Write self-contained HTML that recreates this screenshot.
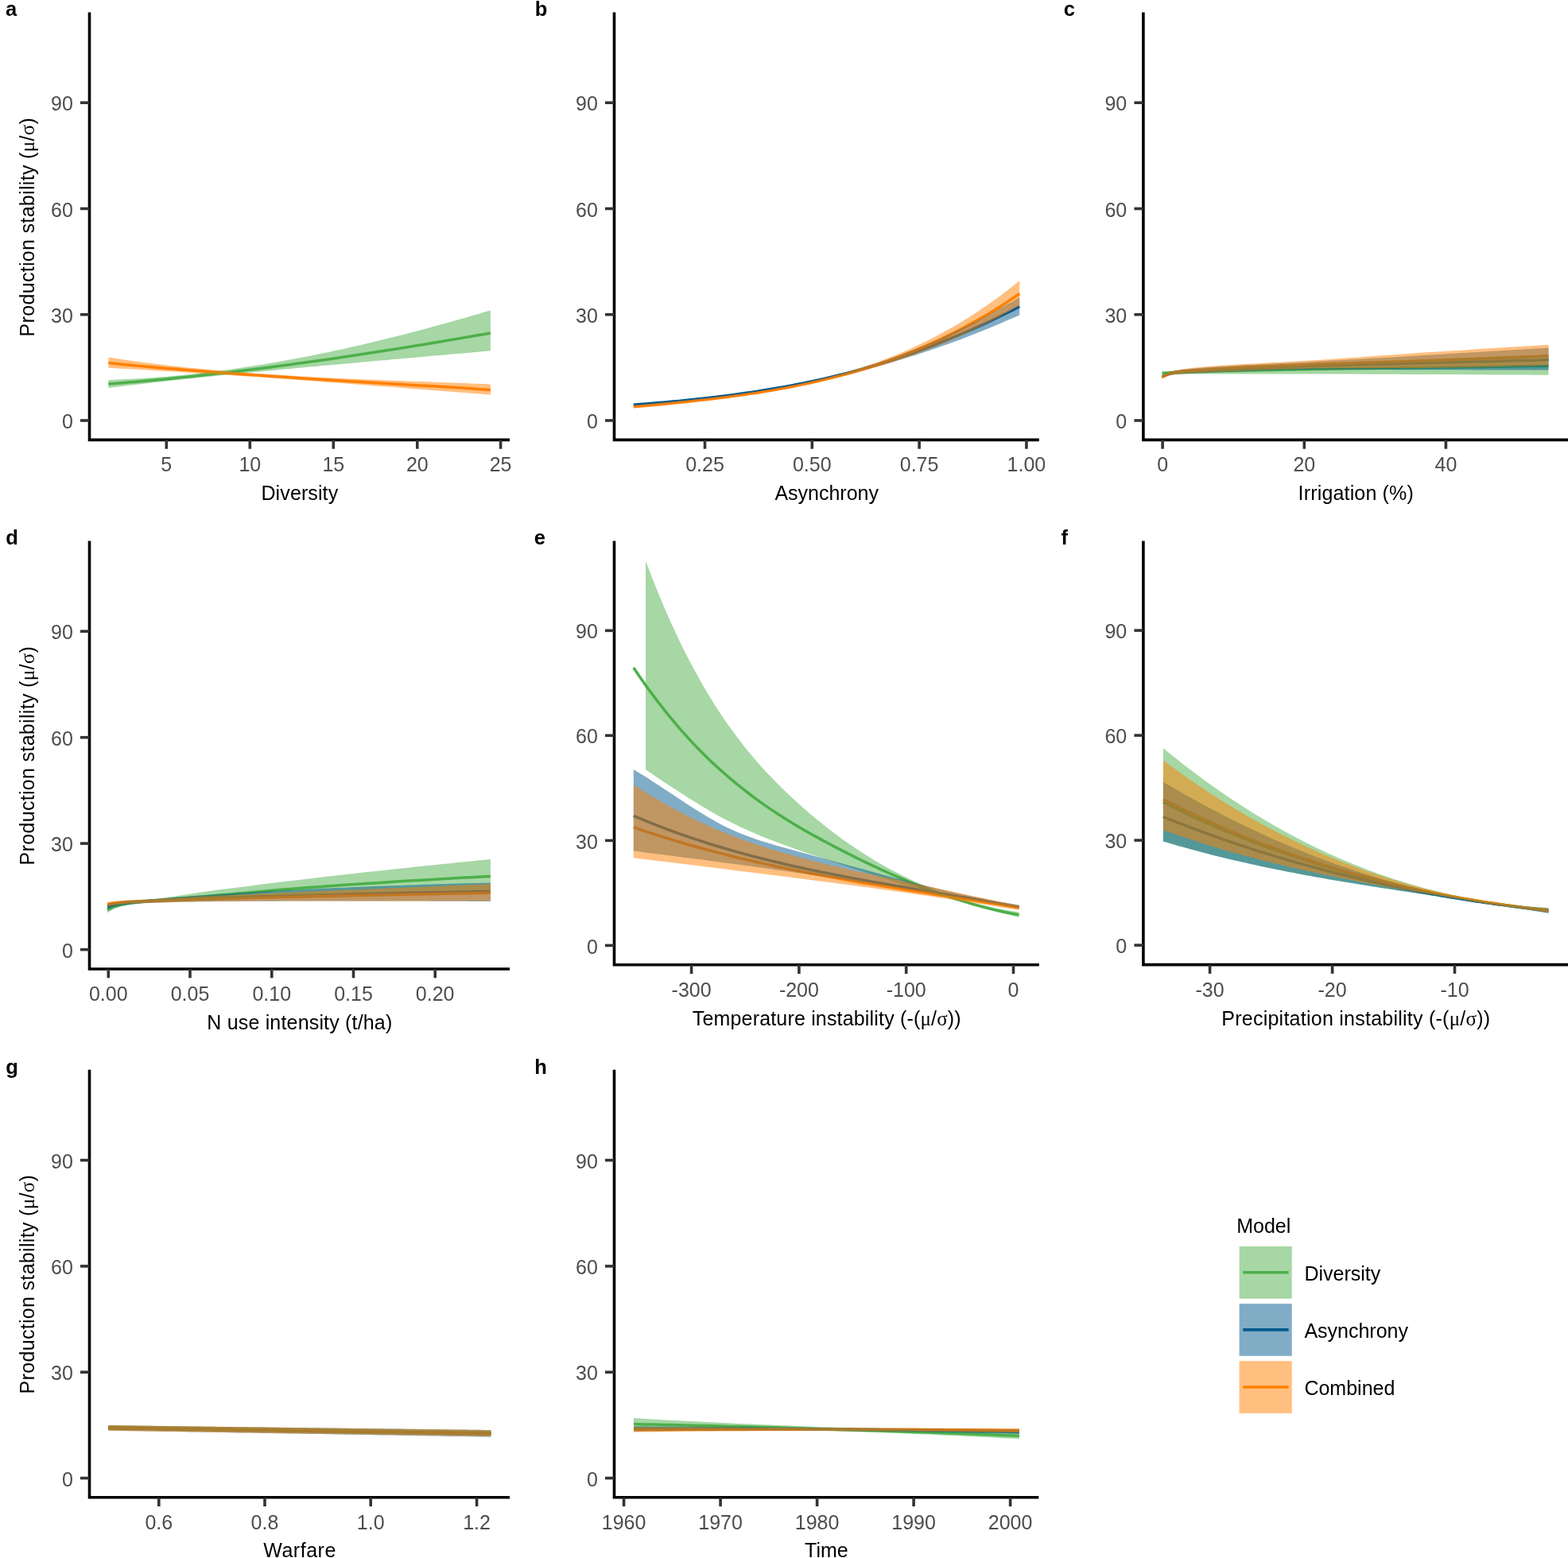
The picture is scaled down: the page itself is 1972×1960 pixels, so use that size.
<!DOCTYPE html><html><head><meta charset="utf-8"><title>Production stability</title>
<style>html,body{margin:0;padding:0;background:#fff;overflow:hidden;width:1972px;height:1960px;}svg{display:block;}.tl{font-family:"Liberation Sans",Arial,sans-serif;font-size:25.0px;fill:#4D4D4D;}.tt{font-family:"Liberation Sans",Arial,sans-serif;font-size:25.0px;fill:#000;}.sy{font-family:"Liberation Serif","Times New Roman",serif;}.lb{font-family:"Liberation Sans",Arial,sans-serif;font-size:25.5px;font-weight:bold;fill:#000;}</style></head><body>
<svg width="1972" height="1960" viewBox="0 0 1972 1960">
<rect width="1972" height="1960" fill="#fff"/>
<g>
<path d="M136.4 483 L144.5 482.4 L152.7 481.7 L160.8 481.1 L169 480.4 L177.1 479.7 L185.3 479 L193.4 478.2 L201.6 477.5 L209.7 476.7 L217.8 475.9 L226 475.1 L234.1 474.2 L242.3 473.4 L250.4 472.5 L258.6 471.6 L266.7 470.7 L274.8 469.8 L283 468.9 L291.1 467.9 L299.3 467 L307.4 466 L315.6 465 L323.7 464 L331.9 463 L340 461.9 L348.1 460.8 L356.3 459.8 L364.4 458.7 L372.6 457.6 L380.7 456.5 L388.9 455.3 L397 454.2 L405.2 453 L413.3 451.9 L421.4 450.7 L429.6 449.5 L437.7 448.3 L445.9 447.1 L454 445.8 L462.2 444.6 L470.3 443.3 L478.5 442.1 L486.6 440.8 L494.7 439.5 L502.9 438.2 L511 436.9 L519.2 435.6 L527.3 434.2 L535.5 432.9 L543.6 431.5 L551.7 430.2 L559.9 428.8 L568 427.4 L576.2 426 L584.3 424.6 L592.5 423.2 L600.6 421.8 L608.8 420.4 L616.9 419" fill="none" stroke="#4DAF4A" stroke-width="3.5" stroke-linejoin="round"/>
<path d="M136.4 456.6 L144.5 457.4 L152.7 458.2 L160.8 459 L169 459.7 L177.1 460.5 L185.3 461.2 L193.4 461.9 L201.6 462.7 L209.7 463.4 L217.8 464 L226 464.7 L234.1 465.4 L242.3 466 L250.4 466.7 L258.6 467.3 L266.7 468 L274.8 468.6 L283 469.2 L291.1 469.8 L299.3 470.4 L307.4 470.9 L315.6 471.5 L323.7 472.1 L331.9 472.6 L340 473.2 L348.1 473.8 L356.3 474.3 L364.4 474.8 L372.6 475.4 L380.7 475.9 L388.9 476.4 L397 476.9 L405.2 477.4 L413.3 477.9 L421.4 478.4 L429.6 478.9 L437.7 479.4 L445.9 479.9 L454 480.4 L462.2 480.9 L470.3 481.4 L478.5 481.9 L486.6 482.4 L494.7 482.9 L502.9 483.4 L511 483.9 L519.2 484.4 L527.3 484.9 L535.5 485.3 L543.6 485.8 L551.7 486.3 L559.9 486.8 L568 487.3 L576.2 487.8 L584.3 488.3 L592.5 488.8 L600.6 489.4 L608.8 489.9 L616.9 490.4" fill="none" stroke="#FF7F00" stroke-width="3.5" stroke-linejoin="round"/>
<path d="M136.4 477.9 L144.5 477.7 L152.7 477.3 L160.8 477 L169 476.5 L177.1 476 L185.3 475.5 L193.4 474.9 L201.6 474.3 L209.7 473.7 L217.8 472.9 L226 472.2 L234.1 471.4 L242.3 470.5 L250.4 469.6 L258.6 468.7 L266.7 467.7 L274.8 466.6 L283 465.5 L291.1 464.4 L299.3 463.3 L307.4 462.1 L315.6 460.8 L323.7 459.5 L331.9 458.2 L340 456.8 L348.1 455.4 L356.3 454 L364.4 452.5 L372.6 451 L380.7 449.4 L388.9 447.9 L397 446.2 L405.2 444.6 L413.3 442.9 L421.4 441.1 L429.6 439.4 L437.7 437.6 L445.9 435.7 L454 433.9 L462.2 432 L470.3 430 L478.5 428.1 L486.6 426.1 L494.7 424.1 L502.9 422 L511 419.9 L519.2 417.8 L527.3 415.7 L535.5 413.5 L543.6 411.3 L551.7 409.1 L559.9 406.8 L568 404.6 L576.2 402.3 L584.3 399.9 L592.5 397.6 L600.6 395.2 L608.8 392.8 L616.9 390.4 L616.9 441.2 L608.8 442 L600.6 442.7 L592.5 443.4 L584.3 444.2 L576.2 444.9 L568 445.6 L559.9 446.4 L551.7 447.1 L543.6 447.8 L535.5 448.5 L527.3 449.3 L519.2 450 L511 450.7 L502.9 451.4 L494.7 452.1 L486.6 452.9 L478.5 453.6 L470.3 454.3 L462.2 455 L454 455.7 L445.9 456.5 L437.7 457.2 L429.6 457.9 L421.4 458.7 L413.3 459.4 L405.2 460.1 L397 460.9 L388.9 461.6 L380.7 462.4 L372.6 463.1 L364.4 463.9 L356.3 464.6 L348.1 465.4 L340 466.2 L331.9 466.9 L323.7 467.7 L315.6 468.5 L307.4 469.3 L299.3 470.1 L291.1 470.9 L283 471.7 L274.8 472.6 L266.7 473.4 L258.6 474.2 L250.4 475.1 L242.3 475.9 L234.1 476.8 L226 477.7 L217.8 478.6 L209.7 479.5 L201.6 480.4 L193.4 481.3 L185.3 482.2 L177.1 483.2 L169 484.1 L160.8 485.1 L152.7 486.1 L144.5 487 L136.4 488Z" fill="#4DAF4A" fill-opacity="0.5"/>
<path d="M136.4 449.5 L144.5 450.8 L152.7 452 L160.8 453.2 L169 454.3 L177.1 455.4 L185.3 456.5 L193.4 457.5 L201.6 458.5 L209.7 459.5 L217.8 460.4 L226 461.3 L234.1 462.2 L242.3 463 L250.4 463.8 L258.6 464.6 L266.7 465.4 L274.8 466.1 L283 466.8 L291.1 467.5 L299.3 468.2 L307.4 468.8 L315.6 469.4 L323.7 470 L331.9 470.6 L340 471.1 L348.1 471.6 L356.3 472.1 L364.4 472.6 L372.6 473.1 L380.7 473.6 L388.9 474 L397 474.4 L405.2 474.9 L413.3 475.3 L421.4 475.7 L429.6 476 L437.7 476.4 L445.9 476.8 L454 477.1 L462.2 477.4 L470.3 477.8 L478.5 478.1 L486.6 478.4 L494.7 478.7 L502.9 479.1 L511 479.4 L519.2 479.7 L527.3 480 L535.5 480.3 L543.6 480.6 L551.7 480.9 L559.9 481.2 L568 481.5 L576.2 481.8 L584.3 482.1 L592.5 482.4 L600.6 482.7 L608.8 483.1 L616.9 483.4 L616.9 496.6 L608.8 496 L600.6 495.3 L592.5 494.7 L584.3 494.1 L576.2 493.5 L568 492.8 L559.9 492.2 L551.7 491.6 L543.6 490.9 L535.5 490.3 L527.3 489.7 L519.2 489 L511 488.4 L502.9 487.8 L494.7 487.1 L486.6 486.5 L478.5 485.9 L470.3 485.2 L462.2 484.6 L454 484 L445.9 483.4 L437.7 482.7 L429.6 482.1 L421.4 481.5 L413.3 480.9 L405.2 480.3 L397 479.7 L388.9 479.1 L380.7 478.4 L372.6 477.8 L364.4 477.3 L356.3 476.7 L348.1 476.1 L340 475.5 L331.9 474.9 L323.7 474.3 L315.6 473.8 L307.4 473.2 L299.3 472.6 L291.1 472.1 L283 471.5 L274.8 471 L266.7 470.5 L258.6 469.9 L250.4 469.4 L242.3 468.9 L234.1 468.4 L226 467.9 L217.8 467.4 L209.7 466.9 L201.6 466.4 L193.4 465.9 L185.3 465.5 L177.1 465 L169 464.5 L160.8 464.1 L152.7 463.7 L144.5 463.2 L136.4 462.8Z" fill="#FF7F00" fill-opacity="0.5"/>
</g>
<path d="M112.5 17.4 V553.4 H639.2" fill="none" stroke="#000" stroke-width="3.6" stroke-linecap="square" stroke-linejoin="miter"/>
<line x1="101" y1="529" x2="112.5" y2="529" stroke="#333" stroke-width="3.6"/>
<text class="tl" x="91.8" y="539.1" text-anchor="end">0</text>
<line x1="101" y1="395.7" x2="112.5" y2="395.7" stroke="#333" stroke-width="3.6"/>
<text class="tl" x="91.8" y="405.8" text-anchor="end">30</text>
<line x1="101" y1="262.5" x2="112.5" y2="262.5" stroke="#333" stroke-width="3.6"/>
<text class="tl" x="91.8" y="272.6" text-anchor="end">60</text>
<line x1="101" y1="129.2" x2="112.5" y2="129.2" stroke="#333" stroke-width="3.6"/>
<text class="tl" x="91.8" y="139.3" text-anchor="end">90</text>
<line x1="209.3" y1="553.4" x2="209.3" y2="564.7" stroke="#333" stroke-width="3.6"/>
<text class="tl" x="209.3" y="593.4" text-anchor="middle">5</text>
<line x1="314.3" y1="553.4" x2="314.3" y2="564.7" stroke="#333" stroke-width="3.6"/>
<text class="tl" x="314.3" y="593.4" text-anchor="middle">10</text>
<line x1="419.3" y1="553.4" x2="419.3" y2="564.7" stroke="#333" stroke-width="3.6"/>
<text class="tl" x="419.3" y="593.4" text-anchor="middle">15</text>
<line x1="524.8" y1="553.4" x2="524.8" y2="564.7" stroke="#333" stroke-width="3.6"/>
<text class="tl" x="524.8" y="593.4" text-anchor="middle">20</text>
<line x1="629.6" y1="553.4" x2="629.6" y2="564.7" stroke="#333" stroke-width="3.6"/>
<text class="tl" x="629.6" y="593.4" text-anchor="middle">25</text>
<text class="tt" x="376.8" y="629.3" text-anchor="middle" textLength="96.7" lengthAdjust="spacing">Diversity</text>
<text class="tt" transform="translate(42.5 285.8) rotate(-90)" text-anchor="middle" textLength="275.2" lengthAdjust="spacing">Production stability (<tspan class="sy">μ</tspan>/<tspan class="sy">σ</tspan>)</text>
<text class="lb" x="6.9" y="20">a</text>
<g>
<path d="M796.8 509.3 L805 508.6 L813.3 508 L821.5 507.3 L829.7 506.6 L837.9 505.9 L846.2 505.1 L854.4 504.4 L862.6 503.6 L870.8 502.7 L879.1 501.8 L887.3 500.9 L895.5 500 L903.8 499 L912 498 L920.2 496.9 L928.4 495.8 L936.7 494.6 L944.9 493.4 L953.1 492.2 L961.3 490.8 L969.6 489.5 L977.8 488.1 L986 486.6 L994.3 485.1 L1002.5 483.5 L1010.7 481.9 L1018.9 480.2 L1027.2 478.4 L1035.4 476.6 L1043.6 474.7 L1051.8 472.7 L1060.1 470.7 L1068.3 468.6 L1076.5 466.4 L1084.7 464.1 L1093 461.8 L1101.2 459.4 L1109.4 456.9 L1117.7 454.3 L1125.9 451.6 L1134.1 448.9 L1142.3 446.1 L1150.6 443.2 L1158.8 440.2 L1167 437.1 L1175.2 434 L1183.5 430.7 L1191.7 427.4 L1199.9 424 L1208.2 420.5 L1216.4 417 L1224.6 413.3 L1232.8 409.6 L1241.1 405.8 L1249.3 402 L1257.5 398 L1265.7 394 L1274 389.9 L1282.2 385.7" fill="none" stroke="#045A8D" stroke-width="3.5" stroke-linejoin="round"/>
<path d="M796.8 511.8 L805 511 L813.3 510.3 L821.5 509.5 L829.7 508.7 L837.9 507.9 L846.2 507.1 L854.4 506.2 L862.6 505.4 L870.8 504.5 L879.1 503.6 L887.3 502.7 L895.5 501.7 L903.8 500.7 L912 499.7 L920.2 498.6 L928.4 497.5 L936.7 496.3 L944.9 495.1 L953.1 493.9 L961.3 492.6 L969.6 491.2 L977.8 489.8 L986 488.3 L994.3 486.7 L1002.5 485.1 L1010.7 483.4 L1018.9 481.7 L1027.2 479.8 L1035.4 477.9 L1043.6 475.9 L1051.8 473.8 L1060.1 471.6 L1068.3 469.4 L1076.5 467 L1084.7 464.5 L1093 462 L1101.2 459.3 L1109.4 456.6 L1117.7 453.7 L1125.9 450.7 L1134.1 447.6 L1142.3 444.4 L1150.6 441.1 L1158.8 437.7 L1167 434.1 L1175.2 430.4 L1183.5 426.6 L1191.7 422.6 L1199.9 418.5 L1208.2 414.3 L1216.4 409.9 L1224.6 405.4 L1232.8 400.7 L1241.1 395.9 L1249.3 391 L1257.5 385.9 L1265.7 380.6 L1274 375.1 L1282.2 369.5" fill="none" stroke="#FF7F00" stroke-width="3.5" stroke-linejoin="round"/>
<path d="M796.8 507.9 L805 507.2 L813.3 506.6 L821.5 505.9 L829.7 505.2 L837.9 504.4 L846.2 503.7 L854.4 502.9 L862.6 502.2 L870.8 501.3 L879.1 500.5 L887.3 499.6 L895.5 498.7 L903.8 497.8 L912 496.8 L920.2 495.8 L928.4 494.7 L936.7 493.6 L944.9 492.4 L953.1 491.2 L961.3 489.9 L969.6 488.5 L977.8 487.1 L986 485.7 L994.3 484.1 L1002.5 482.6 L1010.7 480.9 L1018.9 479.1 L1027.2 477.3 L1035.4 475.4 L1043.6 473.5 L1051.8 471.4 L1060.1 469.3 L1068.3 467 L1076.5 464.7 L1084.7 462.3 L1093 459.8 L1101.2 457.2 L1109.4 454.5 L1117.7 451.7 L1125.9 448.7 L1134.1 445.7 L1142.3 442.6 L1150.6 439.3 L1158.8 436 L1167 432.5 L1175.2 429 L1183.5 425.3 L1191.7 421.6 L1199.9 417.7 L1208.2 413.8 L1216.4 409.7 L1224.6 405.6 L1232.8 401.4 L1241.1 397.1 L1249.3 392.6 L1257.5 388.1 L1265.7 383.6 L1274 378.9 L1282.2 374.1 L1282.2 396.4 L1274 400 L1265.7 403.6 L1257.5 407.2 L1249.3 410.6 L1241.1 414 L1232.8 417.3 L1224.6 420.6 L1216.4 423.8 L1208.2 426.9 L1199.9 429.9 L1191.7 432.9 L1183.5 435.8 L1175.2 438.7 L1167 441.5 L1158.8 444.2 L1150.6 446.9 L1142.3 449.5 L1134.1 452 L1125.9 454.5 L1117.7 456.9 L1109.4 459.2 L1101.2 461.5 L1093 463.7 L1084.7 465.9 L1076.5 468 L1068.3 470 L1060.1 472 L1051.8 474 L1043.6 475.8 L1035.4 477.7 L1027.2 479.4 L1018.9 481.2 L1010.7 482.8 L1002.5 484.4 L994.3 486 L986 487.5 L977.8 489 L969.6 490.4 L961.3 491.8 L953.1 493.1 L944.9 494.4 L936.7 495.6 L928.4 496.8 L920.2 498 L912 499.1 L903.8 500.1 L895.5 501.2 L887.3 502.2 L879.1 503.1 L870.8 504 L862.6 504.9 L854.4 505.7 L846.2 506.5 L837.9 507.3 L829.7 508 L821.5 508.7 L813.3 509.3 L805 510 L796.8 510.6Z" fill="#045A8D" fill-opacity="0.5"/>
<path d="M796.8 510.2 L805 509.4 L813.3 508.6 L821.5 507.8 L829.7 507 L837.9 506.2 L846.2 505.4 L854.4 504.6 L862.6 503.8 L870.8 502.9 L879.1 502 L887.3 501.2 L895.5 500.2 L903.8 499.3 L912 498.3 L920.2 497.2 L928.4 496.2 L936.7 495 L944.9 493.9 L953.1 492.6 L961.3 491.3 L969.6 490 L977.8 488.5 L986 487 L994.3 485.5 L1002.5 483.8 L1010.7 482.1 L1018.9 480.2 L1027.2 478.3 L1035.4 476.3 L1043.6 474.2 L1051.8 472 L1060.1 469.7 L1068.3 467.3 L1076.5 464.7 L1084.7 462.1 L1093 459.3 L1101.2 456.4 L1109.4 453.3 L1117.7 450.2 L1125.9 446.9 L1134.1 443.4 L1142.3 439.9 L1150.6 436.1 L1158.8 432.2 L1167 428.2 L1175.2 424 L1183.5 419.6 L1191.7 415.1 L1199.9 410.4 L1208.2 405.5 L1216.4 400.5 L1224.6 395.2 L1232.8 389.8 L1241.1 384.2 L1249.3 378.4 L1257.5 372.4 L1265.7 366.2 L1274 359.7 L1282.2 353.1 L1282.2 384.4 L1274 389.1 L1265.7 393.7 L1257.5 398.2 L1249.3 402.5 L1241.1 406.7 L1232.8 410.8 L1224.6 414.8 L1216.4 418.7 L1208.2 422.5 L1199.9 426.1 L1191.7 429.7 L1183.5 433.1 L1175.2 436.4 L1167 439.7 L1158.8 442.8 L1150.6 445.9 L1142.3 448.8 L1134.1 451.7 L1125.9 454.4 L1117.7 457.1 L1109.4 459.7 L1101.2 462.2 L1093 464.6 L1084.7 466.9 L1076.5 469.2 L1068.3 471.4 L1060.1 473.5 L1051.8 475.5 L1043.6 477.5 L1035.4 479.4 L1027.2 481.3 L1018.9 483 L1010.7 484.7 L1002.5 486.4 L994.3 488 L986 489.5 L977.8 491 L969.6 492.4 L961.3 493.8 L953.1 495.1 L944.9 496.4 L936.7 497.6 L928.4 498.8 L920.2 499.9 L912 501 L903.8 502.1 L895.5 503.1 L887.3 504.1 L879.1 505.1 L870.8 506 L862.6 506.9 L854.4 507.8 L846.2 508.6 L837.9 509.4 L829.7 510.2 L821.5 511 L813.3 511.8 L805 512.5 L796.8 513.3Z" fill="#FF7F00" fill-opacity="0.5"/>
</g>
<path d="M772.5 17.4 V553.4 H1305" fill="none" stroke="#000" stroke-width="3.6" stroke-linecap="square" stroke-linejoin="miter"/>
<line x1="761" y1="529" x2="772.5" y2="529" stroke="#333" stroke-width="3.6"/>
<text class="tl" x="751.8" y="539.1" text-anchor="end">0</text>
<line x1="761" y1="395.7" x2="772.5" y2="395.7" stroke="#333" stroke-width="3.6"/>
<text class="tl" x="751.8" y="405.8" text-anchor="end">30</text>
<line x1="761" y1="262.5" x2="772.5" y2="262.5" stroke="#333" stroke-width="3.6"/>
<text class="tl" x="751.8" y="272.6" text-anchor="end">60</text>
<line x1="761" y1="129.2" x2="772.5" y2="129.2" stroke="#333" stroke-width="3.6"/>
<text class="tl" x="751.8" y="139.3" text-anchor="end">90</text>
<line x1="886.5" y1="553.4" x2="886.5" y2="564.7" stroke="#333" stroke-width="3.6"/>
<text class="tl" x="886.5" y="593.4" text-anchor="middle">0.25</text>
<line x1="1021.3" y1="553.4" x2="1021.3" y2="564.7" stroke="#333" stroke-width="3.6"/>
<text class="tl" x="1021.3" y="593.4" text-anchor="middle">0.50</text>
<line x1="1156.1" y1="553.4" x2="1156.1" y2="564.7" stroke="#333" stroke-width="3.6"/>
<text class="tl" x="1156.1" y="593.4" text-anchor="middle">0.75</text>
<line x1="1290.9" y1="553.4" x2="1290.9" y2="564.7" stroke="#333" stroke-width="3.6"/>
<text class="tl" x="1290.9" y="593.4" text-anchor="middle">1.00</text>
<text class="tt" x="1039.7" y="629.3" text-anchor="middle">Asynchrony</text>
<text class="lb" x="672.8" y="20">b</text>
<g>
<path d="M1461.5 469.5 L1469.7 469 L1478 468.6 L1486.2 468.3 L1494.4 468 L1502.7 467.7 L1510.9 467.4 L1519.2 467.2 L1527.4 467 L1535.6 466.8 L1543.9 466.6 L1552.1 466.4 L1560.3 466.2 L1568.6 466.1 L1576.8 465.9 L1585.1 465.7 L1593.3 465.6 L1601.5 465.4 L1609.8 465.2 L1618 465.1 L1626.2 464.9 L1634.5 464.8 L1642.7 464.7 L1651 464.5 L1659.2 464.4 L1667.4 464.2 L1675.7 464.1 L1683.9 464 L1692.1 463.8 L1700.4 463.7 L1708.6 463.6 L1716.9 463.5 L1725.1 463.4 L1733.3 463.2 L1741.6 463.1 L1749.8 463 L1758 462.9 L1766.3 462.8 L1774.5 462.7 L1782.8 462.5 L1791 462.4 L1799.2 462.3 L1807.5 462.2 L1815.7 462.1 L1823.9 462 L1832.2 461.8 L1840.4 461.7 L1848.7 461.6 L1856.9 461.5 L1865.1 461.4 L1873.4 461.3 L1881.6 461.2 L1889.8 461.1 L1898.1 460.9 L1906.3 460.8 L1914.6 460.7 L1922.8 460.6 L1931 460.5 L1939.3 460.4 L1947.5 460.3" fill="none" stroke="#4DAF4A" stroke-width="3.5" stroke-linejoin="round"/>
<path d="M1461.5 474 L1469.7 470.4 L1478 468.8 L1486.2 467.8 L1494.4 467.1 L1502.7 466.5 L1510.9 466 L1519.2 465.5 L1527.4 465.1 L1535.6 464.7 L1543.9 464.3 L1552.1 463.9 L1560.3 463.5 L1568.6 463.2 L1576.8 462.8 L1585.1 462.5 L1593.3 462.2 L1601.5 461.9 L1609.8 461.6 L1618 461.3 L1626.2 461 L1634.5 460.8 L1642.7 460.5 L1651 460.3 L1659.2 460 L1667.4 459.8 L1675.7 459.6 L1683.9 459.3 L1692.1 459.1 L1700.4 458.9 L1708.6 458.7 L1716.9 458.5 L1725.1 458.3 L1733.3 458.1 L1741.6 457.9 L1749.8 457.7 L1758 457.5 L1766.3 457.3 L1774.5 457.1 L1782.8 456.9 L1791 456.7 L1799.2 456.5 L1807.5 456.3 L1815.7 456.1 L1823.9 455.9 L1832.2 455.7 L1840.4 455.5 L1848.7 455.3 L1856.9 455.1 L1865.1 454.9 L1873.4 454.7 L1881.6 454.4 L1889.8 454.2 L1898.1 454 L1906.3 453.8 L1914.6 453.6 L1922.8 453.4 L1931 453.2 L1939.3 453 L1947.5 452.8" fill="none" stroke="#045A8D" stroke-width="3.5" stroke-linejoin="round"/>
<path d="M1461.5 474.5 L1469.7 470.3 L1478 468.5 L1486.2 467.4 L1494.4 466.6 L1502.7 465.9 L1510.9 465.4 L1519.2 464.9 L1527.4 464.3 L1535.6 463.9 L1543.9 463.4 L1552.1 462.9 L1560.3 462.5 L1568.6 462.1 L1576.8 461.7 L1585.1 461.4 L1593.3 461 L1601.5 460.7 L1609.8 460.3 L1618 460 L1626.2 459.7 L1634.5 459.3 L1642.7 459 L1651 458.7 L1659.2 458.3 L1667.4 458 L1675.7 457.7 L1683.9 457.5 L1692.1 457.2 L1700.4 456.9 L1708.6 456.6 L1716.9 456.3 L1725.1 456.1 L1733.3 455.8 L1741.6 455.5 L1749.8 455.2 L1758 455 L1766.3 454.7 L1774.5 454.4 L1782.8 454.1 L1791 453.8 L1799.2 453.5 L1807.5 453.2 L1815.7 452.9 L1823.9 452.6 L1832.2 452.3 L1840.4 452 L1848.7 451.7 L1856.9 451.3 L1865.1 451 L1873.4 450.7 L1881.6 450.4 L1889.8 450 L1898.1 449.7 L1906.3 449.4 L1914.6 449 L1922.8 448.7 L1931 448.4 L1939.3 448 L1947.5 447.7" fill="none" stroke="#FF7F00" stroke-width="3.5" stroke-linejoin="round"/>
<path d="M1461.5 467.4 L1469.7 467 L1478 466.3 L1486.2 465.7 L1494.4 465.1 L1502.7 464.7 L1510.9 464.2 L1519.2 463.8 L1527.4 463.3 L1535.6 462.9 L1543.9 462.5 L1552.1 462 L1560.3 461.7 L1568.6 461.3 L1576.8 460.9 L1585.1 460.5 L1593.3 460.2 L1601.5 459.8 L1609.8 459.5 L1618 459.2 L1626.2 458.9 L1634.5 458.5 L1642.7 458.2 L1651 457.9 L1659.2 457.6 L1667.4 457.3 L1675.7 457 L1683.9 456.7 L1692.1 456.3 L1700.4 456 L1708.6 455.7 L1716.9 455.4 L1725.1 455.1 L1733.3 454.8 L1741.6 454.5 L1749.8 454.2 L1758 453.9 L1766.3 453.6 L1774.5 453.3 L1782.8 452.9 L1791 452.6 L1799.2 452.3 L1807.5 452 L1815.7 451.7 L1823.9 451.4 L1832.2 451.1 L1840.4 450.7 L1848.7 450.4 L1856.9 450.1 L1865.1 449.8 L1873.4 449.4 L1881.6 449.1 L1889.8 448.8 L1898.1 448.5 L1906.3 448.1 L1914.6 447.8 L1922.8 447.5 L1931 447.2 L1939.3 446.8 L1947.5 446.5 L1947.5 471.8 L1939.3 471.7 L1931 471.7 L1922.8 471.6 L1914.6 471.6 L1906.3 471.5 L1898.1 471.5 L1889.8 471.4 L1881.6 471.4 L1873.4 471.4 L1865.1 471.3 L1856.9 471.3 L1848.7 471.2 L1840.4 471.2 L1832.2 471.1 L1823.9 471.1 L1815.7 471.1 L1807.5 471 L1799.2 471 L1791 471 L1782.8 470.9 L1774.5 470.9 L1766.3 470.9 L1758 470.8 L1749.8 470.8 L1741.6 470.8 L1733.3 470.7 L1725.1 470.7 L1716.9 470.7 L1708.6 470.6 L1700.4 470.6 L1692.1 470.6 L1683.9 470.6 L1675.7 470.5 L1667.4 470.5 L1659.2 470.5 L1651 470.5 L1642.7 470.5 L1634.5 470.5 L1626.2 470.5 L1618 470.5 L1609.8 470.5 L1601.5 470.5 L1593.3 470.5 L1585.1 470.5 L1576.8 470.5 L1568.6 470.5 L1560.3 470.5 L1552.1 470.5 L1543.9 470.5 L1535.6 470.5 L1527.4 470.5 L1519.2 470.5 L1510.9 470.5 L1502.7 470.6 L1494.4 470.6 L1486.2 470.7 L1478 470.8 L1469.7 470.9 L1461.5 471.5Z" fill="#4DAF4A" fill-opacity="0.5"/>
<path d="M1461.5 472.5 L1469.7 468.2 L1478 466.3 L1486.2 465.1 L1494.4 464.2 L1502.7 463.4 L1510.9 462.7 L1519.2 462.1 L1527.4 461.5 L1535.6 460.9 L1543.9 460.4 L1552.1 460 L1560.3 459.5 L1568.6 459.1 L1576.8 458.7 L1585.1 458.3 L1593.3 457.9 L1601.5 457.5 L1609.8 457.1 L1618 456.7 L1626.2 456.3 L1634.5 455.9 L1642.7 455.5 L1651 455 L1659.2 454.5 L1667.4 454.1 L1675.7 453.6 L1683.9 453.2 L1692.1 452.7 L1700.4 452.2 L1708.6 451.8 L1716.9 451.3 L1725.1 450.8 L1733.3 450.4 L1741.6 449.9 L1749.8 449.4 L1758 448.9 L1766.3 448.5 L1774.5 448 L1782.8 447.5 L1791 447 L1799.2 446.5 L1807.5 446.1 L1815.7 445.6 L1823.9 445.1 L1832.2 444.6 L1840.4 444.1 L1848.7 443.6 L1856.9 443.1 L1865.1 442.6 L1873.4 442.1 L1881.6 441.6 L1889.8 441.1 L1898.1 440.6 L1906.3 440.1 L1914.6 439.6 L1922.8 439 L1931 438.5 L1939.3 438 L1947.5 437.5 L1947.5 465.5 L1939.3 465.5 L1931 465.5 L1922.8 465.5 L1914.6 465.5 L1906.3 465.5 L1898.1 465.4 L1889.8 465.4 L1881.6 465.4 L1873.4 465.4 L1865.1 465.4 L1856.9 465.4 L1848.7 465.3 L1840.4 465.3 L1832.2 465.3 L1823.9 465.3 L1815.7 465.3 L1807.5 465.3 L1799.2 465.3 L1791 465.3 L1782.8 465.3 L1774.5 465.2 L1766.3 465.2 L1758 465.2 L1749.8 465.1 L1741.6 465.1 L1733.3 465.1 L1725.1 465 L1716.9 465 L1708.6 465 L1700.4 465 L1692.1 465 L1683.9 465 L1675.7 465 L1667.4 465 L1659.2 465.1 L1651 465.1 L1642.7 465.2 L1634.5 465.3 L1626.2 465.5 L1618 465.6 L1609.8 465.8 L1601.5 466 L1593.3 466.2 L1585.1 466.5 L1576.8 466.7 L1568.6 467 L1560.3 467.3 L1552.1 467.6 L1543.9 467.9 L1535.6 468.2 L1527.4 468.5 L1519.2 468.9 L1510.9 469.2 L1502.7 469.5 L1494.4 469.9 L1486.2 470.4 L1478 471.1 L1469.7 472.5 L1461.5 475.5Z" fill="#045A8D" fill-opacity="0.5"/>
<path d="M1461.5 472.5 L1469.7 467.9 L1478 465.9 L1486.2 464.5 L1494.4 463.4 L1502.7 462.5 L1510.9 461.8 L1519.2 461.1 L1527.4 460.4 L1535.6 459.8 L1543.9 459.3 L1552.1 458.8 L1560.3 458.3 L1568.6 457.8 L1576.8 457.4 L1585.1 457 L1593.3 456.6 L1601.5 456.1 L1609.8 455.7 L1618 455.3 L1626.2 454.8 L1634.5 454.3 L1642.7 453.8 L1651 453.3 L1659.2 452.8 L1667.4 452.2 L1675.7 451.7 L1683.9 451.1 L1692.1 450.5 L1700.4 449.9 L1708.6 449.4 L1716.9 448.8 L1725.1 448.2 L1733.3 447.6 L1741.6 447 L1749.8 446.4 L1758 445.9 L1766.3 445.3 L1774.5 444.7 L1782.8 444.1 L1791 443.6 L1799.2 443.1 L1807.5 442.5 L1815.7 442 L1823.9 441.4 L1832.2 440.9 L1840.4 440.4 L1848.7 439.9 L1856.9 439.3 L1865.1 438.8 L1873.4 438.3 L1881.6 437.8 L1889.8 437.3 L1898.1 436.8 L1906.3 436.3 L1914.6 435.8 L1922.8 435.3 L1931 434.8 L1939.3 434.3 L1947.5 433.8 L1947.5 459.6 L1939.3 459.8 L1931 460 L1922.8 460.2 L1914.6 460.4 L1906.3 460.6 L1898.1 460.8 L1889.8 461 L1881.6 461.2 L1873.4 461.4 L1865.1 461.6 L1856.9 461.7 L1848.7 461.9 L1840.4 462 L1832.2 462.2 L1823.9 462.3 L1815.7 462.5 L1807.5 462.6 L1799.2 462.7 L1791 462.8 L1782.8 462.9 L1774.5 463 L1766.3 463 L1758 463.1 L1749.8 463.1 L1741.6 463.1 L1733.3 463.2 L1725.1 463.2 L1716.9 463.2 L1708.6 463.2 L1700.4 463.2 L1692.1 463.3 L1683.9 463.3 L1675.7 463.4 L1667.4 463.4 L1659.2 463.5 L1651 463.6 L1642.7 463.8 L1634.5 464 L1626.2 464.2 L1618 464.4 L1609.8 464.6 L1601.5 464.9 L1593.3 465.2 L1585.1 465.5 L1576.8 465.8 L1568.6 466.2 L1560.3 466.5 L1552.1 466.9 L1543.9 467.3 L1535.6 467.6 L1527.4 468 L1519.2 468.4 L1510.9 468.8 L1502.7 469.2 L1494.4 469.6 L1486.2 470.2 L1478 471 L1469.7 472.5 L1461.5 476.4Z" fill="#FF7F00" fill-opacity="0.5"/>
</g>
<path d="M1437.9 17.4 V553.4 H1972.2" fill="none" stroke="#000" stroke-width="3.6" stroke-linecap="square" stroke-linejoin="miter"/>
<line x1="1426.4" y1="529" x2="1437.9" y2="529" stroke="#333" stroke-width="3.6"/>
<text class="tl" x="1417.2" y="539.1" text-anchor="end">0</text>
<line x1="1426.4" y1="395.7" x2="1437.9" y2="395.7" stroke="#333" stroke-width="3.6"/>
<text class="tl" x="1417.2" y="405.8" text-anchor="end">30</text>
<line x1="1426.4" y1="262.5" x2="1437.9" y2="262.5" stroke="#333" stroke-width="3.6"/>
<text class="tl" x="1417.2" y="272.6" text-anchor="end">60</text>
<line x1="1426.4" y1="129.2" x2="1437.9" y2="129.2" stroke="#333" stroke-width="3.6"/>
<text class="tl" x="1417.2" y="139.3" text-anchor="end">90</text>
<line x1="1462.1" y1="553.4" x2="1462.1" y2="564.7" stroke="#333" stroke-width="3.6"/>
<text class="tl" x="1462.1" y="593.4" text-anchor="middle">0</text>
<line x1="1640.3" y1="553.4" x2="1640.3" y2="564.7" stroke="#333" stroke-width="3.6"/>
<text class="tl" x="1640.3" y="593.4" text-anchor="middle">20</text>
<line x1="1818.4" y1="553.4" x2="1818.4" y2="564.7" stroke="#333" stroke-width="3.6"/>
<text class="tl" x="1818.4" y="593.4" text-anchor="middle">40</text>
<text class="tt" x="1705.2" y="629.3" text-anchor="middle" textLength="145.2" lengthAdjust="spacing">Irrigation (%)</text>
<text class="lb" x="1337.7" y="20">c</text>
<g>
<path d="M135.1 1144.6 L143.3 1140.6 L151.4 1138.2 L159.6 1136.7 L167.8 1135.6 L175.9 1134.7 L184.1 1133.9 L192.3 1133.1 L200.4 1132.4 L208.6 1131.7 L216.8 1131 L224.9 1130.3 L233.1 1129.7 L241.3 1129 L249.4 1128.4 L257.6 1127.7 L265.8 1127 L273.9 1126.3 L282.1 1125.6 L290.3 1124.9 L298.4 1124.1 L306.6 1123.4 L314.8 1122.7 L322.9 1122 L331.1 1121.2 L339.3 1120.5 L347.4 1119.8 L355.6 1119.1 L363.8 1118.5 L371.9 1117.8 L380.1 1117.2 L388.2 1116.6 L396.4 1116 L404.6 1115.4 L412.7 1114.8 L420.9 1114.2 L429.1 1113.6 L437.2 1113.1 L445.4 1112.5 L453.6 1112 L461.7 1111.4 L469.9 1110.9 L478.1 1110.4 L486.2 1109.9 L494.4 1109.3 L502.6 1108.8 L510.7 1108.3 L518.9 1107.8 L527.1 1107.4 L535.2 1106.9 L543.4 1106.4 L551.6 1105.9 L559.7 1105.5 L567.9 1105 L576.1 1104.6 L584.2 1104.1 L592.4 1103.7 L600.6 1103.2 L608.7 1102.8 L616.9 1102.4" fill="none" stroke="#4DAF4A" stroke-width="3.5" stroke-linejoin="round"/>
<path d="M135.1 1140.5 L143.3 1138 L151.4 1136.5 L159.6 1135.4 L167.8 1134.8 L175.9 1134.2 L184.1 1133.8 L192.3 1133.3 L200.4 1132.9 L208.6 1132.4 L216.8 1132 L224.9 1131.6 L233.1 1131.2 L241.3 1130.8 L249.4 1130.4 L257.6 1130.1 L265.8 1129.8 L273.9 1129.5 L282.1 1129.2 L290.3 1129 L298.4 1128.7 L306.6 1128.5 L314.8 1128.2 L322.9 1128 L331.1 1127.8 L339.3 1127.6 L347.4 1127.4 L355.6 1127.1 L363.8 1126.9 L371.9 1126.7 L380.1 1126.5 L388.2 1126.3 L396.4 1126.1 L404.6 1125.8 L412.7 1125.6 L420.9 1125.4 L429.1 1125.2 L437.2 1125 L445.4 1124.8 L453.6 1124.6 L461.7 1124.4 L469.9 1124.2 L478.1 1124 L486.2 1123.8 L494.4 1123.6 L502.6 1123.4 L510.7 1123.3 L518.9 1123.1 L527.1 1123 L535.2 1122.8 L543.4 1122.7 L551.6 1122.5 L559.7 1122.4 L567.9 1122.2 L576.1 1122.1 L584.2 1122 L592.4 1121.8 L600.6 1121.7 L608.7 1121.6 L616.9 1121.5" fill="none" stroke="#045A8D" stroke-width="3.5" stroke-linejoin="round"/>
<path d="M135.1 1137.6 L143.3 1136.2 L151.4 1135.4 L159.6 1134.8 L167.8 1134.4 L175.9 1134 L184.1 1133.7 L192.3 1133.4 L200.4 1133.1 L208.6 1132.8 L216.8 1132.5 L224.9 1132.2 L233.1 1131.9 L241.3 1131.6 L249.4 1131.3 L257.6 1131.1 L265.8 1130.8 L273.9 1130.6 L282.1 1130.4 L290.3 1130.1 L298.4 1129.9 L306.6 1129.7 L314.8 1129.5 L322.9 1129.3 L331.1 1129.1 L339.3 1128.9 L347.4 1128.7 L355.6 1128.6 L363.8 1128.4 L371.9 1128.2 L380.1 1128 L388.2 1127.8 L396.4 1127.6 L404.6 1127.5 L412.7 1127.3 L420.9 1127.1 L429.1 1126.9 L437.2 1126.8 L445.4 1126.6 L453.6 1126.4 L461.7 1126.3 L469.9 1126.1 L478.1 1125.9 L486.2 1125.8 L494.4 1125.6 L502.6 1125.4 L510.7 1125.3 L518.9 1125.1 L527.1 1125 L535.2 1124.8 L543.4 1124.7 L551.6 1124.5 L559.7 1124.3 L567.9 1124.2 L576.1 1124 L584.2 1123.9 L592.4 1123.7 L600.6 1123.6 L608.7 1123.4 L616.9 1123.3" fill="none" stroke="#FF7F00" stroke-width="3.5" stroke-linejoin="round"/>
<path d="M135.1 1140.6 L143.3 1137.5 L151.4 1135.7 L159.6 1134.5 L167.8 1133.6 L175.9 1132.9 L184.1 1132.1 L192.3 1131.2 L200.4 1130.2 L208.6 1129.1 L216.8 1127.9 L224.9 1126.7 L233.1 1125.4 L241.3 1124.2 L249.4 1123 L257.6 1121.8 L265.8 1120.7 L273.9 1119.6 L282.1 1118.6 L290.3 1117.5 L298.4 1116.5 L306.6 1115.4 L314.8 1114.4 L322.9 1113.3 L331.1 1112.3 L339.3 1111.3 L347.4 1110.3 L355.6 1109.3 L363.8 1108.3 L371.9 1107.4 L380.1 1106.4 L388.2 1105.4 L396.4 1104.5 L404.6 1103.5 L412.7 1102.6 L420.9 1101.7 L429.1 1100.8 L437.2 1099.8 L445.4 1098.9 L453.6 1098 L461.7 1097.1 L469.9 1096.3 L478.1 1095.4 L486.2 1094.5 L494.4 1093.6 L502.6 1092.7 L510.7 1091.9 L518.9 1091 L527.1 1090.1 L535.2 1089.3 L543.4 1088.4 L551.6 1087.5 L559.7 1086.7 L567.9 1085.9 L576.1 1085 L584.2 1084.2 L592.4 1083.4 L600.6 1082.5 L608.7 1081.7 L616.9 1080.9 L616.9 1119.8 L608.7 1120 L600.6 1120.1 L592.4 1120.3 L584.2 1120.4 L576.1 1120.6 L567.9 1120.8 L559.7 1121 L551.6 1121.2 L543.4 1121.3 L535.2 1121.5 L527.1 1121.8 L518.9 1122 L510.7 1122.2 L502.6 1122.4 L494.4 1122.6 L486.2 1122.9 L478.1 1123.1 L469.9 1123.4 L461.7 1123.6 L453.6 1123.9 L445.4 1124.2 L437.2 1124.5 L429.1 1124.7 L420.9 1125 L412.7 1125.4 L404.6 1125.7 L396.4 1126 L388.2 1126.3 L380.1 1126.7 L371.9 1127 L363.8 1127.4 L355.6 1127.8 L347.4 1128.3 L339.3 1128.7 L331.1 1129.2 L322.9 1129.7 L314.8 1130.1 L306.6 1130.6 L298.4 1131.1 L290.3 1131.5 L282.1 1132 L273.9 1132.4 L265.8 1132.8 L257.6 1133.1 L249.4 1133.4 L241.3 1133.5 L233.1 1133.7 L224.9 1133.8 L216.8 1134 L208.6 1134.2 L200.4 1134.5 L192.3 1135 L184.1 1135.6 L175.9 1136.5 L167.8 1137.5 L159.6 1138.8 L151.4 1140.7 L143.3 1143.6 L135.1 1148.3Z" fill="#4DAF4A" fill-opacity="0.5"/>
<path d="M135.1 1137 L143.3 1135.1 L151.4 1133.9 L159.6 1133 L167.8 1132.5 L175.9 1132 L184.1 1131.6 L192.3 1131.1 L200.4 1130.5 L208.6 1129.9 L216.8 1129.3 L224.9 1128.6 L233.1 1128 L241.3 1127.3 L249.4 1126.7 L257.6 1126.2 L265.8 1125.6 L273.9 1125.1 L282.1 1124.6 L290.3 1124 L298.4 1123.5 L306.6 1123 L314.8 1122.5 L322.9 1122.1 L331.1 1121.6 L339.3 1121.1 L347.4 1120.7 L355.6 1120.2 L363.8 1119.8 L371.9 1119.4 L380.1 1119 L388.2 1118.6 L396.4 1118.2 L404.6 1117.8 L412.7 1117.5 L420.9 1117.1 L429.1 1116.8 L437.2 1116.4 L445.4 1116.1 L453.6 1115.7 L461.7 1115.4 L469.9 1115.1 L478.1 1114.8 L486.2 1114.5 L494.4 1114.2 L502.6 1113.9 L510.7 1113.6 L518.9 1113.4 L527.1 1113.1 L535.2 1112.8 L543.4 1112.6 L551.6 1112.3 L559.7 1112.1 L567.9 1111.8 L576.1 1111.6 L584.2 1111.3 L592.4 1111.1 L600.6 1110.9 L608.7 1110.7 L616.9 1110.5 L616.9 1134 L608.7 1134 L600.6 1133.9 L592.4 1133.9 L584.2 1133.8 L576.1 1133.8 L567.9 1133.8 L559.7 1133.7 L551.6 1133.7 L543.4 1133.7 L535.2 1133.6 L527.1 1133.6 L518.9 1133.6 L510.7 1133.6 L502.6 1133.6 L494.4 1133.6 L486.2 1133.6 L478.1 1133.6 L469.9 1133.6 L461.7 1133.6 L453.6 1133.6 L445.4 1133.6 L437.2 1133.6 L429.1 1133.6 L420.9 1133.6 L412.7 1133.6 L404.6 1133.6 L396.4 1133.6 L388.2 1133.6 L380.1 1133.6 L371.9 1133.6 L363.8 1133.6 L355.6 1133.6 L347.4 1133.7 L339.3 1133.7 L331.1 1133.7 L322.9 1133.8 L314.8 1133.8 L306.6 1133.8 L298.4 1133.9 L290.3 1134 L282.1 1134 L273.9 1134.1 L265.8 1134.2 L257.6 1134.2 L249.4 1134.3 L241.3 1134.4 L233.1 1134.6 L224.9 1134.8 L216.8 1135 L208.6 1135.2 L200.4 1135.5 L192.3 1135.8 L184.1 1136.1 L175.9 1136.6 L167.8 1137.2 L159.6 1138 L151.4 1139.3 L143.3 1141 L135.1 1143.5Z" fill="#045A8D" fill-opacity="0.5"/>
<path d="M135.1 1135 L143.3 1133.8 L151.4 1133.1 L159.6 1132.6 L167.8 1132.2 L175.9 1131.9 L184.1 1131.5 L192.3 1131.2 L200.4 1130.7 L208.6 1130.3 L216.8 1129.9 L224.9 1129.4 L233.1 1128.9 L241.3 1128.5 L249.4 1128 L257.6 1127.6 L265.8 1127.2 L273.9 1126.8 L282.1 1126.4 L290.3 1126 L298.4 1125.7 L306.6 1125.3 L314.8 1124.9 L322.9 1124.5 L331.1 1124.2 L339.3 1123.8 L347.4 1123.4 L355.6 1123.1 L363.8 1122.7 L371.9 1122.4 L380.1 1122 L388.2 1121.6 L396.4 1121.3 L404.6 1120.9 L412.7 1120.6 L420.9 1120.3 L429.1 1119.9 L437.2 1119.6 L445.4 1119.3 L453.6 1118.9 L461.7 1118.6 L469.9 1118.3 L478.1 1117.9 L486.2 1117.6 L494.4 1117.2 L502.6 1116.9 L510.7 1116.5 L518.9 1116.2 L527.1 1115.9 L535.2 1115.5 L543.4 1115.2 L551.6 1114.8 L559.7 1114.5 L567.9 1114.1 L576.1 1113.8 L584.2 1113.4 L592.4 1113.1 L600.6 1112.7 L608.7 1112.4 L616.9 1112 L616.9 1133.4 L608.7 1133.4 L600.6 1133.4 L592.4 1133.4 L584.2 1133.4 L576.1 1133.4 L567.9 1133.4 L559.7 1133.4 L551.6 1133.4 L543.4 1133.4 L535.2 1133.4 L527.1 1133.4 L518.9 1133.4 L510.7 1133.4 L502.6 1133.4 L494.4 1133.4 L486.2 1133.4 L478.1 1133.4 L469.9 1133.4 L461.7 1133.4 L453.6 1133.4 L445.4 1133.4 L437.2 1133.4 L429.1 1133.4 L420.9 1133.4 L412.7 1133.4 L404.6 1133.4 L396.4 1133.4 L388.2 1133.4 L380.1 1133.4 L371.9 1133.4 L363.8 1133.4 L355.6 1133.4 L347.4 1133.5 L339.3 1133.5 L331.1 1133.6 L322.9 1133.6 L314.8 1133.7 L306.6 1133.7 L298.4 1133.8 L290.3 1133.9 L282.1 1134 L273.9 1134.1 L265.8 1134.1 L257.6 1134.2 L249.4 1134.3 L241.3 1134.5 L233.1 1134.6 L224.9 1134.8 L216.8 1135 L208.6 1135.2 L200.4 1135.4 L192.3 1135.6 L184.1 1135.9 L175.9 1136.2 L167.8 1136.6 L159.6 1137 L151.4 1137.8 L143.3 1138.9 L135.1 1140.5Z" fill="#FF7F00" fill-opacity="0.5"/>
</g>
<path d="M112.5 682.4 V1219 H639.2" fill="none" stroke="#000" stroke-width="3.6" stroke-linecap="square" stroke-linejoin="miter"/>
<line x1="101" y1="1194.6" x2="112.5" y2="1194.6" stroke="#333" stroke-width="3.6"/>
<text class="tl" x="91.8" y="1204.7" text-anchor="end">0</text>
<line x1="101" y1="1061.1" x2="112.5" y2="1061.1" stroke="#333" stroke-width="3.6"/>
<text class="tl" x="91.8" y="1071.2" text-anchor="end">30</text>
<line x1="101" y1="927.7" x2="112.5" y2="927.7" stroke="#333" stroke-width="3.6"/>
<text class="tl" x="91.8" y="937.8" text-anchor="end">60</text>
<line x1="101" y1="794.2" x2="112.5" y2="794.2" stroke="#333" stroke-width="3.6"/>
<text class="tl" x="91.8" y="804.3" text-anchor="end">90</text>
<line x1="136.3" y1="1219" x2="136.3" y2="1230.3" stroke="#333" stroke-width="3.6"/>
<text class="tl" x="136.3" y="1259" text-anchor="middle">0.00</text>
<line x1="239" y1="1219" x2="239" y2="1230.3" stroke="#333" stroke-width="3.6"/>
<text class="tl" x="239" y="1259" text-anchor="middle">0.05</text>
<line x1="341.8" y1="1219" x2="341.8" y2="1230.3" stroke="#333" stroke-width="3.6"/>
<text class="tl" x="341.8" y="1259" text-anchor="middle">0.10</text>
<line x1="444.5" y1="1219" x2="444.5" y2="1230.3" stroke="#333" stroke-width="3.6"/>
<text class="tl" x="444.5" y="1259" text-anchor="middle">0.15</text>
<line x1="547.2" y1="1219" x2="547.2" y2="1230.3" stroke="#333" stroke-width="3.6"/>
<text class="tl" x="547.2" y="1259" text-anchor="middle">0.20</text>
<text class="tt" x="376.8" y="1294.5" text-anchor="middle" textLength="232.9" lengthAdjust="spacing">N use intensity (t/ha)</text>
<text class="tt" transform="translate(42.5 950.8) rotate(-90)" text-anchor="middle" textLength="275.2" lengthAdjust="spacing">Production stability (<tspan class="sy">μ</tspan>/<tspan class="sy">σ</tspan>)</text>
<text class="lb" x="7.3" y="685.4">d</text>
<g>
<path d="M796.8 839.9 L805 852 L813.2 863.7 L821.4 874.9 L829.7 885.8 L837.9 896.2 L846.1 906.2 L854.3 915.9 L862.5 925.2 L870.7 934.1 L879 942.7 L887.2 950.9 L895.4 958.9 L903.6 966.5 L911.8 973.8 L920 980.9 L928.2 987.7 L936.5 994.2 L944.7 1000.5 L952.9 1006.6 L961.1 1012.4 L969.3 1018.1 L977.5 1023.5 L985.8 1028.8 L994 1033.9 L1002.2 1038.9 L1010.4 1043.7 L1018.6 1048.4 L1026.8 1052.9 L1035 1057.4 L1043.3 1061.8 L1051.5 1066.1 L1059.7 1070.4 L1067.9 1074.5 L1076.1 1078.6 L1084.3 1082.7 L1092.5 1086.6 L1100.8 1090.5 L1109 1094.3 L1117.2 1098 L1125.4 1101.6 L1133.6 1105.2 L1141.8 1108.6 L1150.1 1112 L1158.3 1115.3 L1166.5 1118.4 L1174.7 1121.5 L1182.9 1124.4 L1191.1 1127.3 L1199.3 1130 L1207.6 1132.7 L1215.8 1135.2 L1224 1137.6 L1232.2 1139.9 L1240.4 1142 L1248.6 1144.1 L1256.9 1146 L1265.1 1147.8 L1273.3 1149.4 L1281.5 1150.9" fill="none" stroke="#4DAF4A" stroke-width="3.5" stroke-linejoin="round"/>
<path d="M796.8 1026.3 L805 1029.7 L813.2 1033.1 L821.4 1036.4 L829.7 1039.7 L837.9 1042.8 L846.1 1045.8 L854.3 1048.8 L862.5 1051.7 L870.7 1054.5 L879 1057.2 L887.2 1059.9 L895.4 1062.5 L903.6 1065 L911.8 1067.4 L920 1069.8 L928.2 1072.1 L936.5 1074.4 L944.7 1076.6 L952.9 1078.7 L961.1 1080.8 L969.3 1082.9 L977.5 1084.8 L985.8 1086.8 L994 1088.7 L1002.2 1090.5 L1010.4 1092.3 L1018.6 1094.1 L1026.8 1095.8 L1035 1097.5 L1043.3 1099.1 L1051.5 1100.7 L1059.7 1102.3 L1067.9 1103.9 L1076.1 1105.4 L1084.3 1106.9 L1092.5 1108.4 L1100.8 1109.9 L1109 1111.3 L1117.2 1112.8 L1125.4 1114.2 L1133.6 1115.6 L1141.8 1117 L1150.1 1118.4 L1158.3 1119.8 L1166.5 1121.2 L1174.7 1122.6 L1182.9 1124 L1191.1 1125.4 L1199.3 1126.8 L1207.6 1128.2 L1215.8 1129.6 L1224 1131 L1232.2 1132.5 L1240.4 1133.9 L1248.6 1135.4 L1256.9 1136.9 L1265.1 1138.4 L1273.3 1139.9 L1281.5 1141.5" fill="none" stroke="#045A8D" stroke-width="3.5" stroke-linejoin="round"/>
<path d="M796.8 1040.7 L805 1043.5 L813.2 1046.3 L821.4 1049 L829.7 1051.6 L837.9 1054.2 L846.1 1056.7 L854.3 1059.2 L862.5 1061.6 L870.7 1064 L879 1066.3 L887.2 1068.5 L895.4 1070.7 L903.6 1072.8 L911.8 1074.9 L920 1077 L928.2 1079 L936.5 1081 L944.7 1082.9 L952.9 1084.8 L961.1 1086.6 L969.3 1088.4 L977.5 1090.2 L985.8 1091.9 L994 1093.6 L1002.2 1095.3 L1010.4 1096.9 L1018.6 1098.5 L1026.8 1100.1 L1035 1101.6 L1043.3 1103.1 L1051.5 1104.6 L1059.7 1106.1 L1067.9 1107.5 L1076.1 1109 L1084.3 1110.4 L1092.5 1111.7 L1100.8 1113.1 L1109 1114.5 L1117.2 1115.8 L1125.4 1117.1 L1133.6 1118.5 L1141.8 1119.8 L1150.1 1121.1 L1158.3 1122.3 L1166.5 1123.6 L1174.7 1124.9 L1182.9 1126.2 L1191.1 1127.5 L1199.3 1128.7 L1207.6 1130 L1215.8 1131.3 L1224 1132.6 L1232.2 1133.9 L1240.4 1135.2 L1248.6 1136.5 L1256.9 1137.8 L1265.1 1139.1 L1273.3 1140.4 L1281.5 1141.8" fill="none" stroke="#FF7F00" stroke-width="3.5" stroke-linejoin="round"/>
<path d="M812 705.8 L820 726.5 L827.9 746.3 L835.9 765.3 L843.8 783.3 L851.8 800.5 L859.7 816.9 L867.7 832.5 L875.7 847.3 L883.6 861.5 L891.6 874.9 L899.5 887.7 L907.5 899.9 L915.4 911.5 L923.4 922.6 L931.4 933.1 L939.3 943.2 L947.3 952.8 L955.2 961.9 L963.2 970.7 L971.2 979.1 L979.1 987.2 L987.1 995 L995 1002.6 L1003 1009.9 L1010.9 1017 L1018.9 1023.9 L1026.9 1030.6 L1034.8 1037 L1042.8 1043.3 L1050.7 1049.3 L1058.7 1055.2 L1066.6 1060.8 L1074.6 1066.3 L1082.6 1071.5 L1090.5 1076.6 L1098.5 1081.5 L1106.4 1086.2 L1114.4 1090.7 L1122.3 1095 L1130.3 1099.1 L1138.3 1103.1 L1146.2 1106.9 L1154.2 1110.5 L1162.1 1114 L1170.1 1117.3 L1178.1 1120.4 L1186 1123.4 L1194 1126.2 L1201.9 1128.9 L1209.9 1131.4 L1217.8 1133.8 L1225.8 1136 L1233.8 1138.1 L1241.7 1140 L1249.7 1141.8 L1257.6 1143.4 L1265.6 1145 L1273.5 1146.3 L1281.5 1147.6 L1281.5 1154 L1273.5 1152 L1265.6 1150 L1257.6 1147.9 L1249.7 1145.8 L1241.7 1143.6 L1233.8 1141.4 L1225.8 1139.2 L1217.8 1137 L1209.9 1134.8 L1201.9 1132.5 L1194 1130.2 L1186 1127.8 L1178.1 1125.5 L1170.1 1123.1 L1162.1 1120.7 L1154.2 1118.3 L1146.2 1115.8 L1138.3 1113.4 L1130.3 1110.9 L1122.3 1108.4 L1114.4 1105.9 L1106.4 1103.3 L1098.5 1100.8 L1090.5 1098.2 L1082.6 1095.6 L1074.6 1093 L1066.6 1090.4 L1058.7 1087.7 L1050.7 1085.1 L1042.8 1082.4 L1034.8 1079.8 L1026.9 1077.1 L1018.9 1074.4 L1010.9 1071.7 L1003 1068.9 L995 1066.1 L987.1 1063.3 L979.1 1060.3 L971.2 1057.3 L963.2 1054.2 L955.2 1051 L947.3 1047.6 L939.3 1044.1 L931.4 1040.4 L923.4 1036.6 L915.4 1032.6 L907.5 1028.4 L899.5 1024 L891.6 1019.4 L883.6 1014.7 L875.7 1009.8 L867.7 1004.9 L859.7 999.8 L851.8 994.6 L843.8 989.4 L835.9 984.2 L827.9 978.9 L820 973.6 L812 968.3Z" fill="#4DAF4A" fill-opacity="0.5"/>
<path d="M796.8 967.9 L805 973 L813.2 978.1 L821.4 983.4 L829.7 988.8 L837.9 994.2 L846.1 999.6 L854.3 1005 L862.5 1010.4 L870.7 1015.7 L879 1020.9 L887.2 1025.9 L895.4 1030.8 L903.6 1035.4 L911.8 1039.7 L920 1043.6 L928.2 1047.3 L936.5 1050.6 L944.7 1053.6 L952.9 1056.4 L961.1 1059 L969.3 1061.5 L977.5 1063.9 L985.8 1066.2 L994 1068.4 L1002.2 1070.7 L1010.4 1072.9 L1018.6 1075.2 L1026.8 1077.4 L1035 1079.7 L1043.3 1082 L1051.5 1084.3 L1059.7 1086.5 L1067.9 1088.8 L1076.1 1091.1 L1084.3 1093.3 L1092.5 1095.6 L1100.8 1097.8 L1109 1100 L1117.2 1102.2 L1125.4 1104.4 L1133.6 1106.5 L1141.8 1108.7 L1150.1 1110.7 L1158.3 1112.8 L1166.5 1114.8 L1174.7 1116.8 L1182.9 1118.8 L1191.1 1120.7 L1199.3 1122.6 L1207.6 1124.4 L1215.8 1126.2 L1224 1127.9 L1232.2 1129.6 L1240.4 1131.3 L1248.6 1132.8 L1256.9 1134.4 L1265.1 1135.8 L1273.3 1137.2 L1281.5 1138.5 L1281.5 1143 L1273.3 1141.5 L1265.1 1140 L1256.9 1138.5 L1248.6 1137 L1240.4 1135.6 L1232.2 1134.2 L1224 1132.7 L1215.8 1131.3 L1207.6 1129.9 L1199.3 1128.5 L1191.1 1127.1 L1182.9 1125.7 L1174.7 1124.4 L1166.5 1123 L1158.3 1121.7 L1150.1 1120.3 L1141.8 1119 L1133.6 1117.7 L1125.4 1116.4 L1117.2 1115.1 L1109 1113.8 L1100.8 1112.5 L1092.5 1111.3 L1084.3 1110 L1076.1 1108.8 L1067.9 1107.5 L1059.7 1106.3 L1051.5 1105.1 L1043.3 1103.8 L1035 1102.6 L1026.8 1101.4 L1018.6 1100.2 L1010.4 1099.1 L1002.2 1097.9 L994 1096.7 L985.8 1095.6 L977.5 1094.4 L969.3 1093.2 L961.1 1092.1 L952.9 1091 L944.7 1089.8 L936.5 1088.7 L928.2 1087.6 L920 1086.5 L911.8 1085.4 L903.6 1084.3 L895.4 1083.2 L887.2 1082.1 L879 1081.1 L870.7 1080 L862.5 1078.9 L854.3 1077.9 L846.1 1076.8 L837.9 1075.8 L829.7 1074.7 L821.4 1073.7 L813.2 1072.7 L805 1071.6 L796.8 1070.6Z" fill="#045A8D" fill-opacity="0.5"/>
<path d="M796.8 987.2 L805 992.5 L813.2 997.6 L821.4 1002.6 L829.7 1007.4 L837.9 1012.1 L846.1 1016.7 L854.3 1021.1 L862.5 1025.3 L870.7 1029.4 L879 1033.4 L887.2 1037.2 L895.4 1040.9 L903.6 1044.4 L911.8 1047.8 L920 1051.1 L928.2 1054.2 L936.5 1057.2 L944.7 1060.1 L952.9 1062.9 L961.1 1065.6 L969.3 1068.2 L977.5 1070.7 L985.8 1073.1 L994 1075.4 L1002.2 1077.7 L1010.4 1079.9 L1018.6 1082.1 L1026.8 1084.1 L1035 1086.2 L1043.3 1088.2 L1051.5 1090.1 L1059.7 1092 L1067.9 1093.9 L1076.1 1095.7 L1084.3 1097.6 L1092.5 1099.3 L1100.8 1101.1 L1109 1102.9 L1117.2 1104.6 L1125.4 1106.3 L1133.6 1108.1 L1141.8 1109.8 L1150.1 1111.5 L1158.3 1113.2 L1166.5 1115 L1174.7 1116.7 L1182.9 1118.5 L1191.1 1120.3 L1199.3 1122 L1207.6 1123.8 L1215.8 1125.5 L1224 1127.2 L1232.2 1129 L1240.4 1130.7 L1248.6 1132.4 L1256.9 1134 L1265.1 1135.7 L1273.3 1137.3 L1281.5 1138.8 L1281.5 1144.9 L1273.3 1143.6 L1265.1 1142.2 L1256.9 1140.9 L1248.6 1139.6 L1240.4 1138.3 L1232.2 1137 L1224 1135.7 L1215.8 1134.4 L1207.6 1133.2 L1199.3 1131.9 L1191.1 1130.7 L1182.9 1129.5 L1174.7 1128.3 L1166.5 1127.1 L1158.3 1125.9 L1150.1 1124.7 L1141.8 1123.5 L1133.6 1122.3 L1125.4 1121.2 L1117.2 1120 L1109 1118.9 L1100.8 1117.8 L1092.5 1116.6 L1084.3 1115.5 L1076.1 1114.4 L1067.9 1113.3 L1059.7 1112.2 L1051.5 1111.1 L1043.3 1110 L1035 1108.9 L1026.8 1107.9 L1018.6 1106.8 L1010.4 1105.7 L1002.2 1104.7 L994 1103.6 L985.8 1102.6 L977.5 1101.6 L969.3 1100.5 L961.1 1099.5 L952.9 1098.4 L944.7 1097.4 L936.5 1096.4 L928.2 1095.4 L920 1094.4 L911.8 1093.3 L903.6 1092.3 L895.4 1091.3 L887.2 1090.3 L879 1089.3 L870.7 1088.3 L862.5 1087.3 L854.3 1086.2 L846.1 1085.2 L837.9 1084.2 L829.7 1083.2 L821.4 1082.2 L813.2 1081.2 L805 1080.2 L796.8 1079.2Z" fill="#FF7F00" fill-opacity="0.5"/>
</g>
<path d="M772.5 682.4 V1213.8 H1305" fill="none" stroke="#000" stroke-width="3.6" stroke-linecap="square" stroke-linejoin="miter"/>
<line x1="761" y1="1189.4" x2="772.5" y2="1189.4" stroke="#333" stroke-width="3.6"/>
<text class="tl" x="751.8" y="1199.5" text-anchor="end">0</text>
<line x1="761" y1="1057.4" x2="772.5" y2="1057.4" stroke="#333" stroke-width="3.6"/>
<text class="tl" x="751.8" y="1067.5" text-anchor="end">30</text>
<line x1="761" y1="925.3" x2="772.5" y2="925.3" stroke="#333" stroke-width="3.6"/>
<text class="tl" x="751.8" y="935.4" text-anchor="end">60</text>
<line x1="761" y1="793.3" x2="772.5" y2="793.3" stroke="#333" stroke-width="3.6"/>
<text class="tl" x="751.8" y="803.4" text-anchor="end">90</text>
<line x1="869.6" y1="1213.8" x2="869.6" y2="1225.1" stroke="#333" stroke-width="3.6"/>
<text class="tl" x="869.6" y="1253.8" text-anchor="middle">-300</text>
<line x1="1004.9" y1="1213.8" x2="1004.9" y2="1225.1" stroke="#333" stroke-width="3.6"/>
<text class="tl" x="1004.9" y="1253.8" text-anchor="middle">-200</text>
<line x1="1139.7" y1="1213.8" x2="1139.7" y2="1225.1" stroke="#333" stroke-width="3.6"/>
<text class="tl" x="1139.7" y="1253.8" text-anchor="middle">-100</text>
<line x1="1274.5" y1="1213.8" x2="1274.5" y2="1225.1" stroke="#333" stroke-width="3.6"/>
<text class="tl" x="1274.5" y="1253.8" text-anchor="middle">0</text>
<text class="tt" x="1039.7" y="1289.8" text-anchor="middle" textLength="337.8" lengthAdjust="spacing">Temperature instability (-(<tspan class="sy">μ</tspan>/<tspan class="sy">σ</tspan>))</text>
<text class="lb" x="671.7" y="685.4">e</text>
<g>
<path d="M1462.9 1009.1 L1469 1012.2 L1475.2 1015.3 L1481.3 1018.3 L1487.4 1021.2 L1493.6 1024.1 L1499.7 1027 L1505.8 1029.8 L1512 1032.6 L1518.1 1035.3 L1524.2 1038 L1530.4 1040.7 L1536.5 1043.3 L1542.6 1045.9 L1548.8 1048.4 L1554.9 1050.9 L1561 1053.3 L1567.2 1055.7 L1573.3 1058.1 L1579.4 1060.5 L1585.6 1062.8 L1591.7 1065 L1597.8 1067.3 L1604 1069.5 L1610.1 1071.6 L1616.2 1073.7 L1622.4 1075.8 L1628.5 1077.9 L1634.6 1079.9 L1640.8 1081.9 L1646.9 1083.9 L1653 1085.8 L1659.2 1087.7 L1665.3 1089.5 L1671.4 1091.4 L1677.6 1093.2 L1683.7 1094.9 L1689.8 1096.7 L1696 1098.4 L1702.1 1100.1 L1708.2 1101.7 L1714.3 1103.3 L1720.5 1104.9 L1726.6 1106.5 L1732.7 1108 L1738.9 1109.5 L1745 1111 L1751.1 1112.4 L1757.3 1113.9 L1763.4 1115.3 L1769.5 1116.6 L1775.7 1118 L1781.8 1119.3 L1787.9 1120.6 L1794.1 1121.8 L1800.2 1123 L1806.3 1124.3 L1812.5 1125.4 L1818.6 1126.6 L1824.7 1127.7 L1830.9 1128.8 L1837 1129.9 L1843.1 1131 L1849.3 1132 L1855.4 1133 L1861.5 1134 L1867.7 1134.9 L1873.8 1135.9 L1879.9 1136.8 L1886.1 1137.7 L1892.2 1138.5 L1898.3 1139.4 L1904.5 1140.2 L1910.6 1141 L1916.7 1141.8 L1922.9 1142.6 L1929 1143.3 L1935.1 1144.1 L1941.3 1144.8 L1947.4 1145.5" fill="none" stroke="#4DAF4A" stroke-width="3.5" stroke-linejoin="round"/>
<path d="M1462.9 1027.5 L1469 1030 L1475.2 1032.4 L1481.3 1034.8 L1487.4 1037.2 L1493.6 1039.6 L1499.7 1041.9 L1505.8 1044.2 L1512 1046.5 L1518.1 1048.7 L1524.2 1050.9 L1530.4 1053.1 L1536.5 1055.3 L1542.6 1057.4 L1548.8 1059.5 L1554.9 1061.6 L1561 1063.6 L1567.2 1065.7 L1573.3 1067.7 L1579.4 1069.6 L1585.6 1071.6 L1591.7 1073.5 L1597.8 1075.4 L1604 1077.3 L1610.1 1079.1 L1616.2 1080.9 L1622.4 1082.7 L1628.5 1084.5 L1634.6 1086.2 L1640.8 1087.9 L1646.9 1089.6 L1653 1091.3 L1659.2 1092.9 L1665.3 1094.6 L1671.4 1096.2 L1677.6 1097.7 L1683.7 1099.3 L1689.8 1100.8 L1696 1102.3 L1702.1 1103.8 L1708.2 1105.3 L1714.3 1106.7 L1720.5 1108.1 L1726.6 1109.5 L1732.7 1110.9 L1738.9 1112.2 L1745 1113.5 L1751.1 1114.9 L1757.3 1116.1 L1763.4 1117.4 L1769.5 1118.6 L1775.7 1119.8 L1781.8 1121 L1787.9 1122.2 L1794.1 1123.4 L1800.2 1124.5 L1806.3 1125.6 L1812.5 1126.7 L1818.6 1127.7 L1824.7 1128.8 L1830.9 1129.8 L1837 1130.8 L1843.1 1131.8 L1849.3 1132.7 L1855.4 1133.7 L1861.5 1134.6 L1867.7 1135.5 L1873.8 1136.3 L1879.9 1137.2 L1886.1 1138 L1892.2 1138.8 L1898.3 1139.6 L1904.5 1140.4 L1910.6 1141.2 L1916.7 1141.9 L1922.9 1142.7 L1929 1143.4 L1935.1 1144.1 L1941.3 1144.8 L1947.4 1145.5" fill="none" stroke="#045A8D" stroke-width="3.5" stroke-linejoin="round"/>
<path d="M1462.9 1005.5 L1469 1008.7 L1475.2 1011.9 L1481.3 1015 L1487.4 1018 L1493.6 1021 L1499.7 1024 L1505.8 1026.9 L1512 1029.8 L1518.1 1032.6 L1524.2 1035.4 L1530.4 1038.1 L1536.5 1040.8 L1542.6 1043.5 L1548.8 1046.1 L1554.9 1048.6 L1561 1051.2 L1567.2 1053.7 L1573.3 1056.1 L1579.4 1058.5 L1585.6 1060.9 L1591.7 1063.2 L1597.8 1065.5 L1604 1067.8 L1610.1 1070 L1616.2 1072.2 L1622.4 1074.3 L1628.5 1076.4 L1634.6 1078.5 L1640.8 1080.5 L1646.9 1082.5 L1653 1084.5 L1659.2 1086.5 L1665.3 1088.4 L1671.4 1090.2 L1677.6 1092.1 L1683.7 1093.9 L1689.8 1095.7 L1696 1097.4 L1702.1 1099.2 L1708.2 1100.8 L1714.3 1102.5 L1720.5 1104.1 L1726.6 1105.7 L1732.7 1107.3 L1738.9 1108.8 L1745 1110.3 L1751.1 1111.8 L1757.3 1113.3 L1763.4 1114.7 L1769.5 1116.1 L1775.7 1117.5 L1781.8 1118.8 L1787.9 1120.1 L1794.1 1121.4 L1800.2 1122.6 L1806.3 1123.9 L1812.5 1125.1 L1818.6 1126.3 L1824.7 1127.4 L1830.9 1128.5 L1837 1129.6 L1843.1 1130.7 L1849.3 1131.8 L1855.4 1132.8 L1861.5 1133.8 L1867.7 1134.8 L1873.8 1135.7 L1879.9 1136.6 L1886.1 1137.5 L1892.2 1138.4 L1898.3 1139.3 L1904.5 1140.1 L1910.6 1140.9 L1916.7 1141.7 L1922.9 1142.5 L1929 1143.3 L1935.1 1144 L1941.3 1144.8 L1947.4 1145.5" fill="none" stroke="#FF7F00" stroke-width="3.5" stroke-linejoin="round"/>
<path d="M1462.9 941.2 L1469 946.3 L1475.2 951.2 L1481.3 956.1 L1487.4 960.9 L1493.6 965.7 L1499.7 970.3 L1505.8 974.9 L1512 979.5 L1518.1 983.9 L1524.2 988.3 L1530.4 992.7 L1536.5 996.9 L1542.6 1001.1 L1548.8 1005.2 L1554.9 1009.3 L1561 1013.3 L1567.2 1017.2 L1573.3 1021.1 L1579.4 1024.9 L1585.6 1028.6 L1591.7 1032.2 L1597.8 1035.8 L1604 1039.4 L1610.1 1042.8 L1616.2 1046.2 L1622.4 1049.5 L1628.5 1052.8 L1634.6 1056 L1640.8 1059.2 L1646.9 1062.2 L1653 1065.3 L1659.2 1068.2 L1665.3 1071.1 L1671.4 1073.9 L1677.6 1076.7 L1683.7 1079.4 L1689.8 1082 L1696 1084.6 L1702.1 1087.2 L1708.2 1089.6 L1714.3 1092 L1720.5 1094.4 L1726.6 1096.6 L1732.7 1098.9 L1738.9 1101 L1745 1103.1 L1751.1 1105.2 L1757.3 1107.2 L1763.4 1109.1 L1769.5 1111 L1775.7 1112.8 L1781.8 1114.6 L1787.9 1116.3 L1794.1 1117.9 L1800.2 1119.5 L1806.3 1121.1 L1812.5 1122.6 L1818.6 1124 L1824.7 1125.4 L1830.9 1126.7 L1837 1128 L1843.1 1129.2 L1849.3 1130.3 L1855.4 1131.5 L1861.5 1132.5 L1867.7 1133.5 L1873.8 1134.5 L1879.9 1135.4 L1886.1 1136.2 L1892.2 1137 L1898.3 1137.8 L1904.5 1138.5 L1910.6 1139.1 L1916.7 1139.7 L1922.9 1140.2 L1929 1140.7 L1935.1 1141.2 L1941.3 1141.6 L1947.4 1141.9 L1947.4 1148.8 L1941.3 1147.8 L1935.1 1146.8 L1929 1145.8 L1922.9 1144.8 L1916.7 1143.8 L1910.6 1142.8 L1904.5 1141.9 L1898.3 1140.9 L1892.2 1140 L1886.1 1139.1 L1879.9 1138.1 L1873.8 1137.2 L1867.7 1136.3 L1861.5 1135.4 L1855.4 1134.5 L1849.3 1133.6 L1843.1 1132.7 L1837 1131.8 L1830.9 1130.9 L1824.7 1130 L1818.6 1129.1 L1812.5 1128.2 L1806.3 1127.3 L1800.2 1126.4 L1794.1 1125.5 L1787.9 1124.6 L1781.8 1123.7 L1775.7 1122.7 L1769.5 1121.8 L1763.4 1120.9 L1757.3 1120 L1751.1 1119.1 L1745 1118.1 L1738.9 1117.2 L1732.7 1116.2 L1726.6 1115.3 L1720.5 1114.3 L1714.3 1113.3 L1708.2 1112.3 L1702.1 1111.3 L1696 1110.3 L1689.8 1109.3 L1683.7 1108.3 L1677.6 1107.2 L1671.4 1106.2 L1665.3 1105.1 L1659.2 1104 L1653 1102.9 L1646.9 1101.8 L1640.8 1100.7 L1634.6 1099.5 L1628.5 1098.3 L1622.4 1097.2 L1616.2 1096 L1610.1 1094.7 L1604 1093.5 L1597.8 1092.2 L1591.7 1091 L1585.6 1089.7 L1579.4 1088.3 L1573.3 1087 L1567.2 1085.6 L1561 1084.2 L1554.9 1082.8 L1548.8 1081.4 L1542.6 1079.9 L1536.5 1078.5 L1530.4 1076.9 L1524.2 1075.4 L1518.1 1073.8 L1512 1072.2 L1505.8 1070.6 L1499.7 1069 L1493.6 1067.3 L1487.4 1065.6 L1481.3 1063.9 L1475.2 1062.1 L1469 1060.3 L1462.9 1058.4Z" fill="#4DAF4A" fill-opacity="0.5"/>
<path d="M1462.9 983.6 L1469 987.3 L1475.2 990.9 L1481.3 994.4 L1487.4 997.9 L1493.6 1001.4 L1499.7 1004.8 L1505.8 1008.2 L1512 1011.5 L1518.1 1014.9 L1524.2 1018.1 L1530.4 1021.3 L1536.5 1024.5 L1542.6 1027.7 L1548.8 1030.7 L1554.9 1033.8 L1561 1036.8 L1567.2 1039.8 L1573.3 1042.7 L1579.4 1045.6 L1585.6 1048.5 L1591.7 1051.3 L1597.8 1054 L1604 1056.8 L1610.1 1059.4 L1616.2 1062.1 L1622.4 1064.7 L1628.5 1067.2 L1634.6 1069.8 L1640.8 1072.2 L1646.9 1074.7 L1653 1077.1 L1659.2 1079.4 L1665.3 1081.7 L1671.4 1084 L1677.6 1086.2 L1683.7 1088.4 L1689.8 1090.5 L1696 1092.6 L1702.1 1094.7 L1708.2 1096.7 L1714.3 1098.7 L1720.5 1100.6 L1726.6 1102.5 L1732.7 1104.4 L1738.9 1106.2 L1745 1107.9 L1751.1 1109.7 L1757.3 1111.3 L1763.4 1113 L1769.5 1114.6 L1775.7 1116.1 L1781.8 1117.6 L1787.9 1119.1 L1794.1 1120.5 L1800.2 1121.9 L1806.3 1123.3 L1812.5 1124.6 L1818.6 1125.8 L1824.7 1127.1 L1830.9 1128.2 L1837 1129.4 L1843.1 1130.5 L1849.3 1131.5 L1855.4 1132.5 L1861.5 1133.5 L1867.7 1134.4 L1873.8 1135.3 L1879.9 1136.1 L1886.1 1136.9 L1892.2 1137.7 L1898.3 1138.4 L1904.5 1139.1 L1910.6 1139.8 L1916.7 1140.4 L1922.9 1140.9 L1929 1141.5 L1935.1 1142 L1941.3 1142.4 L1947.4 1142.8 L1947.4 1148.8 L1941.3 1147.8 L1935.1 1146.8 L1929 1145.8 L1922.9 1144.8 L1916.7 1143.8 L1910.6 1142.8 L1904.5 1141.9 L1898.3 1140.9 L1892.2 1140 L1886.1 1139.1 L1879.9 1138.1 L1873.8 1137.2 L1867.7 1136.3 L1861.5 1135.4 L1855.4 1134.5 L1849.3 1133.6 L1843.1 1132.7 L1837 1131.8 L1830.9 1130.9 L1824.7 1130 L1818.6 1129.1 L1812.5 1128.2 L1806.3 1127.3 L1800.2 1126.4 L1794.1 1125.5 L1787.9 1124.6 L1781.8 1123.7 L1775.7 1122.7 L1769.5 1121.8 L1763.4 1120.9 L1757.3 1120 L1751.1 1119.1 L1745 1118.1 L1738.9 1117.2 L1732.7 1116.2 L1726.6 1115.3 L1720.5 1114.3 L1714.3 1113.3 L1708.2 1112.3 L1702.1 1111.3 L1696 1110.3 L1689.8 1109.3 L1683.7 1108.3 L1677.6 1107.2 L1671.4 1106.2 L1665.3 1105.1 L1659.2 1104 L1653 1102.9 L1646.9 1101.8 L1640.8 1100.7 L1634.6 1099.5 L1628.5 1098.3 L1622.4 1097.2 L1616.2 1096 L1610.1 1094.7 L1604 1093.5 L1597.8 1092.2 L1591.7 1091 L1585.6 1089.7 L1579.4 1088.3 L1573.3 1087 L1567.2 1085.6 L1561 1084.2 L1554.9 1082.8 L1548.8 1081.4 L1542.6 1079.9 L1536.5 1078.5 L1530.4 1076.9 L1524.2 1075.4 L1518.1 1073.8 L1512 1072.2 L1505.8 1070.6 L1499.7 1069 L1493.6 1067.3 L1487.4 1065.6 L1481.3 1063.9 L1475.2 1062.1 L1469 1060.3 L1462.9 1058.4Z" fill="#045A8D" fill-opacity="0.5"/>
<path d="M1462.9 956.5 L1469 961.1 L1475.2 965.6 L1481.3 970 L1487.4 974.4 L1493.6 978.7 L1499.7 983 L1505.8 987.2 L1512 991.3 L1518.1 995.4 L1524.2 999.4 L1530.4 1003.3 L1536.5 1007.2 L1542.6 1011 L1548.8 1014.8 L1554.9 1018.5 L1561 1022.1 L1567.2 1025.7 L1573.3 1029.2 L1579.4 1032.6 L1585.6 1036 L1591.7 1039.4 L1597.8 1042.6 L1604 1045.8 L1610.1 1049 L1616.2 1052.1 L1622.4 1055.1 L1628.5 1058.1 L1634.6 1061.1 L1640.8 1063.9 L1646.9 1066.8 L1653 1069.5 L1659.2 1072.2 L1665.3 1074.9 L1671.4 1077.5 L1677.6 1080 L1683.7 1082.5 L1689.8 1085 L1696 1087.3 L1702.1 1089.7 L1708.2 1092 L1714.3 1094.2 L1720.5 1096.4 L1726.6 1098.5 L1732.7 1100.6 L1738.9 1102.6 L1745 1104.6 L1751.1 1106.5 L1757.3 1108.3 L1763.4 1110.2 L1769.5 1111.9 L1775.7 1113.7 L1781.8 1115.3 L1787.9 1117 L1794.1 1118.5 L1800.2 1120.1 L1806.3 1121.5 L1812.5 1123 L1818.6 1124.3 L1824.7 1125.7 L1830.9 1127 L1837 1128.2 L1843.1 1129.4 L1849.3 1130.5 L1855.4 1131.6 L1861.5 1132.7 L1867.7 1133.7 L1873.8 1134.7 L1879.9 1135.6 L1886.1 1136.5 L1892.2 1137.3 L1898.3 1138.1 L1904.5 1138.8 L1910.6 1139.5 L1916.7 1140.2 L1922.9 1140.8 L1929 1141.4 L1935.1 1141.9 L1941.3 1142.4 L1947.4 1142.9 L1947.4 1147.9 L1941.3 1147 L1935.1 1146 L1929 1145.1 L1922.9 1144.2 L1916.7 1143.2 L1910.6 1142.3 L1904.5 1141.4 L1898.3 1140.4 L1892.2 1139.5 L1886.1 1138.6 L1879.9 1137.7 L1873.8 1136.7 L1867.7 1135.8 L1861.5 1134.8 L1855.4 1133.9 L1849.3 1132.9 L1843.1 1132 L1837 1131 L1830.9 1130.1 L1824.7 1129.1 L1818.6 1128.1 L1812.5 1127.1 L1806.3 1126.1 L1800.2 1125.1 L1794.1 1124.1 L1787.9 1123.1 L1781.8 1122.1 L1775.7 1121.1 L1769.5 1120 L1763.4 1119 L1757.3 1117.9 L1751.1 1116.8 L1745 1115.7 L1738.9 1114.6 L1732.7 1113.5 L1726.6 1112.4 L1720.5 1111.2 L1714.3 1110.1 L1708.2 1108.9 L1702.1 1107.7 L1696 1106.5 L1689.8 1105.3 L1683.7 1104.1 L1677.6 1102.8 L1671.4 1101.6 L1665.3 1100.3 L1659.2 1099 L1653 1097.6 L1646.9 1096.3 L1640.8 1094.9 L1634.6 1093.6 L1628.5 1092.2 L1622.4 1090.7 L1616.2 1089.3 L1610.1 1087.8 L1604 1086.3 L1597.8 1084.8 L1591.7 1083.3 L1585.6 1081.7 L1579.4 1080.1 L1573.3 1078.5 L1567.2 1076.8 L1561 1075.2 L1554.9 1073.5 L1548.8 1071.7 L1542.6 1070 L1536.5 1068.2 L1530.4 1066.4 L1524.2 1064.5 L1518.1 1062.7 L1512 1060.8 L1505.8 1058.8 L1499.7 1056.8 L1493.6 1054.8 L1487.4 1052.8 L1481.3 1050.7 L1475.2 1048.6 L1469 1046.5 L1462.9 1044.3Z" fill="#FF7F00" fill-opacity="0.5"/>
</g>
<path d="M1437.9 682.4 V1213.6 H1972.2" fill="none" stroke="#000" stroke-width="3.6" stroke-linecap="square" stroke-linejoin="miter"/>
<line x1="1426.4" y1="1189.1" x2="1437.9" y2="1189.1" stroke="#333" stroke-width="3.6"/>
<text class="tl" x="1417.2" y="1199.2" text-anchor="end">0</text>
<line x1="1426.4" y1="1057.1" x2="1437.9" y2="1057.1" stroke="#333" stroke-width="3.6"/>
<text class="tl" x="1417.2" y="1067.2" text-anchor="end">30</text>
<line x1="1426.4" y1="925.1" x2="1437.9" y2="925.1" stroke="#333" stroke-width="3.6"/>
<text class="tl" x="1417.2" y="935.2" text-anchor="end">60</text>
<line x1="1426.4" y1="793.1" x2="1437.9" y2="793.1" stroke="#333" stroke-width="3.6"/>
<text class="tl" x="1417.2" y="803.2" text-anchor="end">90</text>
<line x1="1521.6" y1="1213.6" x2="1521.6" y2="1224.9" stroke="#333" stroke-width="3.6"/>
<text class="tl" x="1521.6" y="1253.6" text-anchor="middle">-30</text>
<line x1="1675.6" y1="1213.6" x2="1675.6" y2="1224.9" stroke="#333" stroke-width="3.6"/>
<text class="tl" x="1675.6" y="1253.6" text-anchor="middle">-20</text>
<line x1="1829.5" y1="1213.6" x2="1829.5" y2="1224.9" stroke="#333" stroke-width="3.6"/>
<text class="tl" x="1829.5" y="1253.6" text-anchor="middle">-10</text>
<text class="tt" x="1705.2" y="1289.8" text-anchor="middle" textLength="337.9" lengthAdjust="spacing">Precipitation instability (-(<tspan class="sy">μ</tspan>/<tspan class="sy">σ</tspan>))</text>
<text class="lb" x="1334.4" y="685.4">f</text>
<g>
<path d="M136.1 1796 L144.3 1796.1 L152.4 1796.2 L160.6 1796.4 L168.7 1796.5 L176.9 1796.6 L185 1796.7 L193.2 1796.8 L201.4 1796.9 L209.5 1797.1 L217.7 1797.2 L225.8 1797.3 L234 1797.4 L242.1 1797.5 L250.3 1797.7 L258.5 1797.8 L266.6 1797.9 L274.8 1798 L282.9 1798.1 L291.1 1798.3 L299.3 1798.4 L307.4 1798.5 L315.6 1798.6 L323.7 1798.7 L331.9 1798.8 L340 1799 L348.2 1799.1 L356.4 1799.2 L364.5 1799.3 L372.7 1799.4 L380.8 1799.6 L389 1799.7 L397.1 1799.8 L405.3 1799.9 L413.5 1800 L421.6 1800.2 L429.8 1800.3 L437.9 1800.4 L446.1 1800.5 L454.2 1800.6 L462.4 1800.7 L470.6 1800.9 L478.7 1801 L486.9 1801.1 L495 1801.2 L503.2 1801.3 L511.4 1801.5 L519.5 1801.6 L527.7 1801.7 L535.8 1801.8 L544 1801.9 L552.1 1802.1 L560.3 1802.2 L568.5 1802.3 L576.6 1802.4 L584.8 1802.5 L592.9 1802.6 L601.1 1802.8 L609.2 1802.9 L617.4 1803" fill="none" stroke="#4DAF4A" stroke-width="3.5" stroke-linejoin="round"/>
<path d="M136.1 1796.5 L144.3 1796.6 L152.4 1796.7 L160.6 1796.9 L168.7 1797 L176.9 1797.1 L185 1797.2 L193.2 1797.3 L201.4 1797.4 L209.5 1797.6 L217.7 1797.7 L225.8 1797.8 L234 1797.9 L242.1 1798 L250.3 1798.2 L258.5 1798.3 L266.6 1798.4 L274.8 1798.5 L282.9 1798.6 L291.1 1798.8 L299.3 1798.9 L307.4 1799 L315.6 1799.1 L323.7 1799.2 L331.9 1799.3 L340 1799.5 L348.2 1799.6 L356.4 1799.7 L364.5 1799.8 L372.7 1799.9 L380.8 1800.1 L389 1800.2 L397.1 1800.3 L405.3 1800.4 L413.5 1800.5 L421.6 1800.7 L429.8 1800.8 L437.9 1800.9 L446.1 1801 L454.2 1801.1 L462.4 1801.2 L470.6 1801.4 L478.7 1801.5 L486.9 1801.6 L495 1801.7 L503.2 1801.8 L511.4 1802 L519.5 1802.1 L527.7 1802.2 L535.8 1802.3 L544 1802.4 L552.1 1802.6 L560.3 1802.7 L568.5 1802.8 L576.6 1802.9 L584.8 1803 L592.9 1803.1 L601.1 1803.3 L609.2 1803.4 L617.4 1803.5" fill="none" stroke="#045A8D" stroke-width="3.5" stroke-linejoin="round"/>
<path d="M136.1 1796.5 L144.3 1796.6 L152.4 1796.7 L160.6 1796.8 L168.7 1797 L176.9 1797.1 L185 1797.2 L193.2 1797.3 L201.4 1797.4 L209.5 1797.5 L217.7 1797.6 L225.8 1797.7 L234 1797.9 L242.1 1798 L250.3 1798.1 L258.5 1798.2 L266.6 1798.3 L274.8 1798.4 L282.9 1798.5 L291.1 1798.7 L299.3 1798.8 L307.4 1798.9 L315.6 1799 L323.7 1799.1 L331.9 1799.2 L340 1799.3 L348.2 1799.5 L356.4 1799.6 L364.5 1799.7 L372.7 1799.8 L380.8 1799.9 L389 1800 L397.1 1800.1 L405.3 1800.2 L413.5 1800.4 L421.6 1800.5 L429.8 1800.6 L437.9 1800.7 L446.1 1800.8 L454.2 1800.9 L462.4 1801 L470.6 1801.2 L478.7 1801.3 L486.9 1801.4 L495 1801.5 L503.2 1801.6 L511.4 1801.7 L519.5 1801.8 L527.7 1802 L535.8 1802.1 L544 1802.2 L552.1 1802.3 L560.3 1802.4 L568.5 1802.5 L576.6 1802.6 L584.8 1802.7 L592.9 1802.9 L601.1 1803 L609.2 1803.1 L617.4 1803.2" fill="none" stroke="#FF7F00" stroke-width="3.5" stroke-linejoin="round"/>
<path d="M136.1 1793 L144.3 1793.1 L152.4 1793.2 L160.6 1793.3 L168.7 1793.4 L176.9 1793.6 L185 1793.7 L193.2 1793.8 L201.4 1793.9 L209.5 1794 L217.7 1794.1 L225.8 1794.2 L234 1794.3 L242.1 1794.4 L250.3 1794.5 L258.5 1794.7 L266.6 1794.8 L274.8 1794.9 L282.9 1795 L291.1 1795.1 L299.3 1795.2 L307.4 1795.3 L315.6 1795.4 L323.7 1795.5 L331.9 1795.6 L340 1795.8 L348.2 1795.9 L356.4 1796 L364.5 1796.1 L372.7 1796.2 L380.8 1796.3 L389 1796.4 L397.1 1796.5 L405.3 1796.6 L413.5 1796.7 L421.6 1796.9 L429.8 1797 L437.9 1797.1 L446.1 1797.2 L454.2 1797.3 L462.4 1797.4 L470.6 1797.5 L478.7 1797.6 L486.9 1797.7 L495 1797.8 L503.2 1798 L511.4 1798.1 L519.5 1798.2 L527.7 1798.3 L535.8 1798.4 L544 1798.5 L552.1 1798.6 L560.3 1798.7 L568.5 1798.8 L576.6 1798.9 L584.8 1799.1 L592.9 1799.2 L601.1 1799.3 L609.2 1799.4 L617.4 1799.5 L617.4 1806.3 L609.2 1806.2 L601.1 1806 L592.9 1805.9 L584.8 1805.8 L576.6 1805.7 L568.5 1805.5 L560.3 1805.4 L552.1 1805.3 L544 1805.2 L535.8 1805 L527.7 1804.9 L519.5 1804.8 L511.4 1804.7 L503.2 1804.5 L495 1804.4 L486.9 1804.3 L478.7 1804.2 L470.6 1804 L462.4 1803.9 L454.2 1803.8 L446.1 1803.7 L437.9 1803.5 L429.8 1803.4 L421.6 1803.3 L413.5 1803.1 L405.3 1803 L397.1 1802.9 L389 1802.8 L380.8 1802.6 L372.7 1802.5 L364.5 1802.4 L356.4 1802.3 L348.2 1802.1 L340 1802 L331.9 1801.9 L323.7 1801.8 L315.6 1801.6 L307.4 1801.5 L299.3 1801.4 L291.1 1801.3 L282.9 1801.1 L274.8 1801 L266.6 1800.9 L258.5 1800.8 L250.3 1800.6 L242.1 1800.5 L234 1800.4 L225.8 1800.3 L217.7 1800.1 L209.5 1800 L201.4 1799.9 L193.2 1799.7 L185 1799.6 L176.9 1799.5 L168.7 1799.4 L160.6 1799.2 L152.4 1799.1 L144.3 1799 L136.1 1798.9Z" fill="#4DAF4A" fill-opacity="0.5"/>
<path d="M136.1 1793.2 L144.3 1793.3 L152.4 1793.4 L160.6 1793.5 L168.7 1793.6 L176.9 1793.7 L185 1793.8 L193.2 1793.9 L201.4 1794 L209.5 1794.1 L217.7 1794.2 L225.8 1794.3 L234 1794.4 L242.1 1794.5 L250.3 1794.6 L258.5 1794.7 L266.6 1794.8 L274.8 1794.9 L282.9 1795 L291.1 1795.1 L299.3 1795.2 L307.4 1795.3 L315.6 1795.4 L323.7 1795.5 L331.9 1795.6 L340 1795.7 L348.2 1795.8 L356.4 1795.9 L364.5 1796 L372.7 1796.1 L380.8 1796.1 L389 1796.2 L397.1 1796.3 L405.3 1796.4 L413.5 1796.5 L421.6 1796.6 L429.8 1796.7 L437.9 1796.8 L446.1 1796.9 L454.2 1797 L462.4 1797.1 L470.6 1797.2 L478.7 1797.3 L486.9 1797.4 L495 1797.5 L503.2 1797.6 L511.4 1797.7 L519.5 1797.8 L527.7 1797.9 L535.8 1798 L544 1798.1 L552.1 1798.2 L560.3 1798.3 L568.5 1798.4 L576.6 1798.5 L584.8 1798.6 L592.9 1798.7 L601.1 1798.8 L609.2 1798.9 L617.4 1799 L617.4 1807.7 L609.2 1807.5 L601.1 1807.4 L592.9 1807.3 L584.8 1807.1 L576.6 1807 L568.5 1806.9 L560.3 1806.7 L552.1 1806.6 L544 1806.4 L535.8 1806.3 L527.7 1806.2 L519.5 1806 L511.4 1805.9 L503.2 1805.8 L495 1805.6 L486.9 1805.5 L478.7 1805.4 L470.6 1805.2 L462.4 1805.1 L454.2 1805 L446.1 1804.8 L437.9 1804.7 L429.8 1804.5 L421.6 1804.4 L413.5 1804.3 L405.3 1804.1 L397.1 1804 L389 1803.9 L380.8 1803.7 L372.7 1803.6 L364.5 1803.5 L356.4 1803.3 L348.2 1803.2 L340 1803 L331.9 1802.9 L323.7 1802.8 L315.6 1802.6 L307.4 1802.5 L299.3 1802.4 L291.1 1802.2 L282.9 1802.1 L274.8 1802 L266.6 1801.8 L258.5 1801.7 L250.3 1801.5 L242.1 1801.4 L234 1801.3 L225.8 1801.1 L217.7 1801 L209.5 1800.9 L201.4 1800.7 L193.2 1800.6 L185 1800.5 L176.9 1800.3 L168.7 1800.2 L160.6 1800 L152.4 1799.9 L144.3 1799.8 L136.1 1799.6Z" fill="#045A8D" fill-opacity="0.5"/>
<path d="M136.1 1793 L144.3 1793.1 L152.4 1793.2 L160.6 1793.3 L168.7 1793.4 L176.9 1793.5 L185 1793.6 L193.2 1793.7 L201.4 1793.8 L209.5 1793.9 L217.7 1794 L225.8 1794.1 L234 1794.2 L242.1 1794.3 L250.3 1794.4 L258.5 1794.5 L266.6 1794.6 L274.8 1794.7 L282.9 1794.8 L291.1 1794.9 L299.3 1795 L307.4 1795.1 L315.6 1795.2 L323.7 1795.3 L331.9 1795.4 L340 1795.5 L348.2 1795.6 L356.4 1795.7 L364.5 1795.8 L372.7 1795.9 L380.8 1796.1 L389 1796.2 L397.1 1796.3 L405.3 1796.4 L413.5 1796.5 L421.6 1796.6 L429.8 1796.7 L437.9 1796.8 L446.1 1796.9 L454.2 1797 L462.4 1797.1 L470.6 1797.2 L478.7 1797.3 L486.9 1797.4 L495 1797.5 L503.2 1797.6 L511.4 1797.7 L519.5 1797.8 L527.7 1797.9 L535.8 1798 L544 1798.1 L552.1 1798.2 L560.3 1798.3 L568.5 1798.4 L576.6 1798.5 L584.8 1798.6 L592.9 1798.7 L601.1 1798.8 L609.2 1798.9 L617.4 1799 L617.4 1807.1 L609.2 1807 L601.1 1806.9 L592.9 1806.7 L584.8 1806.6 L576.6 1806.5 L568.5 1806.4 L560.3 1806.2 L552.1 1806.1 L544 1806 L535.8 1805.9 L527.7 1805.8 L519.5 1805.6 L511.4 1805.5 L503.2 1805.4 L495 1805.3 L486.9 1805.1 L478.7 1805 L470.6 1804.9 L462.4 1804.8 L454.2 1804.6 L446.1 1804.5 L437.9 1804.4 L429.8 1804.3 L421.6 1804.1 L413.5 1804 L405.3 1803.9 L397.1 1803.8 L389 1803.7 L380.8 1803.5 L372.7 1803.4 L364.5 1803.3 L356.4 1803.2 L348.2 1803 L340 1802.9 L331.9 1802.8 L323.7 1802.7 L315.6 1802.5 L307.4 1802.4 L299.3 1802.3 L291.1 1802.2 L282.9 1802 L274.8 1801.9 L266.6 1801.8 L258.5 1801.7 L250.3 1801.5 L242.1 1801.4 L234 1801.3 L225.8 1801.2 L217.7 1801.1 L209.5 1800.9 L201.4 1800.8 L193.2 1800.7 L185 1800.6 L176.9 1800.4 L168.7 1800.3 L160.6 1800.2 L152.4 1800.1 L144.3 1799.9 L136.1 1799.8Z" fill="#FF7F00" fill-opacity="0.5"/>
</g>
<path d="M112.5 1347.6 V1883.8 H639.2" fill="none" stroke="#000" stroke-width="3.6" stroke-linecap="square" stroke-linejoin="miter"/>
<line x1="101" y1="1859.5" x2="112.5" y2="1859.5" stroke="#333" stroke-width="3.6"/>
<text class="tl" x="91.8" y="1869.6" text-anchor="end">0</text>
<line x1="101" y1="1726.2" x2="112.5" y2="1726.2" stroke="#333" stroke-width="3.6"/>
<text class="tl" x="91.8" y="1736.3" text-anchor="end">30</text>
<line x1="101" y1="1592.9" x2="112.5" y2="1592.9" stroke="#333" stroke-width="3.6"/>
<text class="tl" x="91.8" y="1603" text-anchor="end">60</text>
<line x1="101" y1="1459.6" x2="112.5" y2="1459.6" stroke="#333" stroke-width="3.6"/>
<text class="tl" x="91.8" y="1469.7" text-anchor="end">90</text>
<line x1="199.8" y1="1883.8" x2="199.8" y2="1895.1" stroke="#333" stroke-width="3.6"/>
<text class="tl" x="199.8" y="1923.8" text-anchor="middle">0.6</text>
<line x1="333" y1="1883.8" x2="333" y2="1895.1" stroke="#333" stroke-width="3.6"/>
<text class="tl" x="333" y="1923.8" text-anchor="middle">0.8</text>
<line x1="466.2" y1="1883.8" x2="466.2" y2="1895.1" stroke="#333" stroke-width="3.6"/>
<text class="tl" x="466.2" y="1923.8" text-anchor="middle">1.0</text>
<line x1="599.6" y1="1883.8" x2="599.6" y2="1895.1" stroke="#333" stroke-width="3.6"/>
<text class="tl" x="599.6" y="1923.8" text-anchor="middle">1.2</text>
<text class="tt" x="376.8" y="1958.7" text-anchor="middle" textLength="91.1" lengthAdjust="spacing">Warfare</text>
<text class="tt" transform="translate(42.5 1615.8) rotate(-90)" text-anchor="middle" textLength="275.2" lengthAdjust="spacing">Production stability (<tspan class="sy">μ</tspan>/<tspan class="sy">σ</tspan>)</text>
<text class="lb" x="7.3" y="1350.6">g</text>
<g>
<path d="M797 1791.6 L805.2 1791.8 L813.4 1791.9 L821.7 1792.1 L829.9 1792.3 L838.1 1792.4 L846.3 1792.6 L854.5 1792.8 L862.8 1793 L871 1793.2 L879.2 1793.4 L887.4 1793.6 L895.6 1793.8 L903.9 1794 L912.1 1794.2 L920.3 1794.4 L928.5 1794.6 L936.7 1794.8 L945 1795 L953.2 1795.3 L961.4 1795.5 L969.6 1795.7 L977.8 1796 L986.1 1796.2 L994.3 1796.4 L1002.5 1796.7 L1010.7 1796.9 L1018.9 1797.2 L1027.2 1797.4 L1035.4 1797.7 L1043.6 1797.9 L1051.8 1798.2 L1060.1 1798.4 L1068.3 1798.7 L1076.5 1799 L1084.7 1799.2 L1092.9 1799.5 L1101.2 1799.8 L1109.4 1800.1 L1117.6 1800.3 L1125.8 1800.6 L1134 1800.9 L1142.3 1801.2 L1150.5 1801.5 L1158.7 1801.8 L1166.9 1802 L1175.1 1802.3 L1183.4 1802.6 L1191.6 1802.9 L1199.8 1803.2 L1208 1803.5 L1216.2 1803.8 L1224.5 1804.1 L1232.7 1804.4 L1240.9 1804.7 L1249.1 1805.1 L1257.3 1805.4 L1265.6 1805.7 L1273.8 1806 L1282 1806.3" fill="none" stroke="#4DAF4A" stroke-width="3.5" stroke-linejoin="round"/>
<path d="M797 1797.6 L805.2 1797.6 L813.4 1797.5 L821.7 1797.5 L829.9 1797.5 L838.1 1797.5 L846.3 1797.5 L854.5 1797.5 L862.8 1797.5 L871 1797.5 L879.2 1797.4 L887.4 1797.5 L895.6 1797.5 L903.9 1797.5 L912.1 1797.5 L920.3 1797.5 L928.5 1797.5 L936.7 1797.5 L945 1797.6 L953.2 1797.6 L961.4 1797.6 L969.6 1797.7 L977.8 1797.7 L986.1 1797.7 L994.3 1797.8 L1002.5 1797.8 L1010.7 1797.9 L1018.9 1797.9 L1027.2 1798 L1035.4 1798 L1043.6 1798.1 L1051.8 1798.2 L1060.1 1798.2 L1068.3 1798.3 L1076.5 1798.4 L1084.7 1798.5 L1092.9 1798.5 L1101.2 1798.6 L1109.4 1798.7 L1117.6 1798.8 L1125.8 1798.9 L1134 1799 L1142.3 1799.1 L1150.5 1799.2 L1158.7 1799.3 L1166.9 1799.4 L1175.1 1799.5 L1183.4 1799.6 L1191.6 1799.7 L1199.8 1799.9 L1208 1800 L1216.2 1800.1 L1224.5 1800.2 L1232.7 1800.4 L1240.9 1800.5 L1249.1 1800.6 L1257.3 1800.8 L1265.6 1800.9 L1273.8 1801.1 L1282 1801.2" fill="none" stroke="#045A8D" stroke-width="3.5" stroke-linejoin="round"/>
<path d="M797 1798.6 L805.2 1798.6 L813.4 1798.5 L821.7 1798.5 L829.9 1798.4 L838.1 1798.4 L846.3 1798.4 L854.5 1798.3 L862.8 1798.3 L871 1798.3 L879.2 1798.3 L887.4 1798.3 L895.6 1798.2 L903.9 1798.2 L912.1 1798.2 L920.3 1798.2 L928.5 1798.2 L936.7 1798.2 L945 1798.2 L953.2 1798.2 L961.4 1798.1 L969.6 1798.1 L977.8 1798.1 L986.1 1798.1 L994.3 1798.2 L1002.5 1798.2 L1010.7 1798.2 L1018.9 1798.2 L1027.2 1798.2 L1035.4 1798.2 L1043.6 1798.2 L1051.8 1798.2 L1060.1 1798.3 L1068.3 1798.3 L1076.5 1798.3 L1084.7 1798.3 L1092.9 1798.4 L1101.2 1798.4 L1109.4 1798.4 L1117.6 1798.5 L1125.8 1798.5 L1134 1798.6 L1142.3 1798.6 L1150.5 1798.6 L1158.7 1798.7 L1166.9 1798.7 L1175.1 1798.8 L1183.4 1798.8 L1191.6 1798.9 L1199.8 1798.9 L1208 1799 L1216.2 1799.1 L1224.5 1799.1 L1232.7 1799.2 L1240.9 1799.2 L1249.1 1799.3 L1257.3 1799.4 L1265.6 1799.5 L1273.8 1799.5 L1282 1799.6" fill="none" stroke="#FF7F00" stroke-width="3.5" stroke-linejoin="round"/>
<path d="M797 1784.1 L805.2 1784.6 L813.4 1785 L821.7 1785.5 L829.9 1786 L838.1 1786.4 L846.3 1786.8 L854.5 1787.3 L862.8 1787.7 L871 1788.1 L879.2 1788.5 L887.4 1788.9 L895.6 1789.3 L903.9 1789.7 L912.1 1790.1 L920.3 1790.5 L928.5 1790.9 L936.7 1791.2 L945 1791.6 L953.2 1792 L961.4 1792.3 L969.6 1792.6 L977.8 1793 L986.1 1793.3 L994.3 1793.6 L1002.5 1794 L1010.7 1794.3 L1018.9 1794.6 L1027.2 1794.9 L1035.4 1795.2 L1043.6 1795.5 L1051.8 1795.8 L1060.1 1796.1 L1068.3 1796.3 L1076.5 1796.6 L1084.7 1796.9 L1092.9 1797.2 L1101.2 1797.4 L1109.4 1797.7 L1117.6 1797.9 L1125.8 1798.2 L1134 1798.4 L1142.3 1798.6 L1150.5 1798.9 L1158.7 1799.1 L1166.9 1799.3 L1175.1 1799.5 L1183.4 1799.8 L1191.6 1800 L1199.8 1800.2 L1208 1800.4 L1216.2 1800.6 L1224.5 1800.8 L1232.7 1801 L1240.9 1801.1 L1249.1 1801.3 L1257.3 1801.5 L1265.6 1801.7 L1273.8 1801.8 L1282 1802 L1282 1810.3 L1273.8 1809.8 L1265.6 1809.4 L1257.3 1809 L1249.1 1808.5 L1240.9 1808.1 L1232.7 1807.7 L1224.5 1807.3 L1216.2 1806.9 L1208 1806.5 L1199.8 1806.1 L1191.6 1805.7 L1183.4 1805.4 L1175.1 1805 L1166.9 1804.6 L1158.7 1804.3 L1150.5 1803.9 L1142.3 1803.6 L1134 1803.3 L1125.8 1803 L1117.6 1802.7 L1109.4 1802.3 L1101.2 1802.1 L1092.9 1801.8 L1084.7 1801.5 L1076.5 1801.2 L1068.3 1801 L1060.1 1800.7 L1051.8 1800.5 L1043.6 1800.3 L1035.4 1800 L1027.2 1799.8 L1018.9 1799.6 L1010.7 1799.4 L1002.5 1799.3 L994.3 1799.1 L986.1 1798.9 L977.8 1798.8 L969.6 1798.7 L961.4 1798.5 L953.2 1798.4 L945 1798.3 L936.7 1798.2 L928.5 1798.1 L920.3 1798.1 L912.1 1798 L903.9 1798 L895.6 1797.9 L887.4 1797.9 L879.2 1797.9 L871 1797.9 L862.8 1797.9 L854.5 1797.9 L846.3 1797.9 L838.1 1798 L829.9 1798 L821.7 1798.1 L813.4 1798.2 L805.2 1798.3 L797 1798.4Z" fill="#4DAF4A" fill-opacity="0.5"/>
<path d="M797 1794.2 L805.2 1794.3 L813.4 1794.3 L821.7 1794.4 L829.9 1794.4 L838.1 1794.5 L846.3 1794.6 L854.5 1794.6 L862.8 1794.7 L871 1794.7 L879.2 1794.8 L887.4 1794.9 L895.6 1794.9 L903.9 1795 L912.1 1795.1 L920.3 1795.1 L928.5 1795.2 L936.7 1795.3 L945 1795.3 L953.2 1795.4 L961.4 1795.4 L969.6 1795.5 L977.8 1795.6 L986.1 1795.6 L994.3 1795.7 L1002.5 1795.8 L1010.7 1795.8 L1018.9 1795.9 L1027.2 1796 L1035.4 1796 L1043.6 1796.1 L1051.8 1796.2 L1060.1 1796.2 L1068.3 1796.3 L1076.5 1796.4 L1084.7 1796.5 L1092.9 1796.5 L1101.2 1796.6 L1109.4 1796.7 L1117.6 1796.7 L1125.8 1796.8 L1134 1796.9 L1142.3 1796.9 L1150.5 1797 L1158.7 1797.1 L1166.9 1797.2 L1175.1 1797.2 L1183.4 1797.3 L1191.6 1797.4 L1199.8 1797.5 L1208 1797.5 L1216.2 1797.6 L1224.5 1797.7 L1232.7 1797.8 L1240.9 1797.8 L1249.1 1797.9 L1257.3 1798 L1265.6 1798 L1273.8 1798.1 L1282 1798.2 L1282 1804.1 L1273.8 1803.8 L1265.6 1803.6 L1257.3 1803.4 L1249.1 1803.2 L1240.9 1803.1 L1232.7 1802.9 L1224.5 1802.7 L1216.2 1802.5 L1208 1802.3 L1199.8 1802.2 L1191.6 1802 L1183.4 1801.9 L1175.1 1801.7 L1166.9 1801.6 L1158.7 1801.4 L1150.5 1801.3 L1142.3 1801.2 L1134 1801 L1125.8 1800.9 L1117.6 1800.8 L1109.4 1800.7 L1101.2 1800.6 L1092.9 1800.5 L1084.7 1800.4 L1076.5 1800.3 L1068.3 1800.2 L1060.1 1800.2 L1051.8 1800.1 L1043.6 1800 L1035.4 1800 L1027.2 1799.9 L1018.9 1799.9 L1010.7 1799.8 L1002.5 1799.8 L994.3 1799.8 L986.1 1799.7 L977.8 1799.7 L969.6 1799.7 L961.4 1799.7 L953.2 1799.7 L945 1799.7 L936.7 1799.7 L928.5 1799.8 L920.3 1799.8 L912.1 1799.8 L903.9 1799.8 L895.6 1799.9 L887.4 1799.9 L879.2 1800 L871 1800 L862.8 1800.1 L854.5 1800.2 L846.3 1800.3 L838.1 1800.3 L829.9 1800.4 L821.7 1800.5 L813.4 1800.6 L805.2 1800.7 L797 1800.8Z" fill="#045A8D" fill-opacity="0.5"/>
<path d="M797 1795.3 L805.2 1795.3 L813.4 1795.4 L821.7 1795.4 L829.9 1795.4 L838.1 1795.5 L846.3 1795.5 L854.5 1795.5 L862.8 1795.6 L871 1795.6 L879.2 1795.6 L887.4 1795.7 L895.6 1795.7 L903.9 1795.7 L912.1 1795.8 L920.3 1795.8 L928.5 1795.8 L936.7 1795.9 L945 1795.9 L953.2 1795.9 L961.4 1796 L969.6 1796 L977.8 1796 L986.1 1796 L994.3 1796.1 L1002.5 1796.1 L1010.7 1796.1 L1018.9 1796.2 L1027.2 1796.2 L1035.4 1796.2 L1043.6 1796.2 L1051.8 1796.3 L1060.1 1796.3 L1068.3 1796.3 L1076.5 1796.4 L1084.7 1796.4 L1092.9 1796.4 L1101.2 1796.4 L1109.4 1796.5 L1117.6 1796.5 L1125.8 1796.5 L1134 1796.5 L1142.3 1796.5 L1150.5 1796.6 L1158.7 1796.6 L1166.9 1796.6 L1175.1 1796.6 L1183.4 1796.7 L1191.6 1796.7 L1199.8 1796.7 L1208 1796.7 L1216.2 1796.7 L1224.5 1796.8 L1232.7 1796.8 L1240.9 1796.8 L1249.1 1796.8 L1257.3 1796.8 L1265.6 1796.9 L1273.8 1796.9 L1282 1796.9 L1282 1802.2 L1273.8 1802.1 L1265.6 1801.9 L1257.3 1801.8 L1249.1 1801.7 L1240.9 1801.6 L1232.7 1801.5 L1224.5 1801.4 L1216.2 1801.3 L1208 1801.2 L1199.8 1801.1 L1191.6 1801 L1183.4 1800.9 L1175.1 1800.8 L1166.9 1800.8 L1158.7 1800.7 L1150.5 1800.6 L1142.3 1800.6 L1134 1800.5 L1125.8 1800.5 L1117.6 1800.4 L1109.4 1800.4 L1101.2 1800.3 L1092.9 1800.3 L1084.7 1800.3 L1076.5 1800.2 L1068.3 1800.2 L1060.1 1800.2 L1051.8 1800.2 L1043.6 1800.1 L1035.4 1800.1 L1027.2 1800.1 L1018.9 1800.1 L1010.7 1800.1 L1002.5 1800.2 L994.3 1800.2 L986.1 1800.2 L977.8 1800.2 L969.6 1800.2 L961.4 1800.3 L953.2 1800.3 L945 1800.3 L936.7 1800.4 L928.5 1800.4 L920.3 1800.5 L912.1 1800.5 L903.9 1800.6 L895.6 1800.7 L887.4 1800.7 L879.2 1800.8 L871 1800.9 L862.8 1800.9 L854.5 1801 L846.3 1801.1 L838.1 1801.2 L829.9 1801.3 L821.7 1801.4 L813.4 1801.5 L805.2 1801.6 L797 1801.7Z" fill="#FF7F00" fill-opacity="0.5"/>
</g>
<path d="M772.5 1347.6 V1883.8 H1304.5" fill="none" stroke="#000" stroke-width="3.6" stroke-linecap="square" stroke-linejoin="miter"/>
<line x1="761" y1="1859.5" x2="772.5" y2="1859.5" stroke="#333" stroke-width="3.6"/>
<text class="tl" x="751.8" y="1869.6" text-anchor="end">0</text>
<line x1="761" y1="1726.2" x2="772.5" y2="1726.2" stroke="#333" stroke-width="3.6"/>
<text class="tl" x="751.8" y="1736.3" text-anchor="end">30</text>
<line x1="761" y1="1592.9" x2="772.5" y2="1592.9" stroke="#333" stroke-width="3.6"/>
<text class="tl" x="751.8" y="1603" text-anchor="end">60</text>
<line x1="761" y1="1459.6" x2="772.5" y2="1459.6" stroke="#333" stroke-width="3.6"/>
<text class="tl" x="751.8" y="1469.7" text-anchor="end">90</text>
<line x1="784.6" y1="1883.8" x2="784.6" y2="1895.1" stroke="#333" stroke-width="3.6"/>
<text class="tl" x="784.6" y="1923.8" text-anchor="middle">1960</text>
<line x1="906.1" y1="1883.8" x2="906.1" y2="1895.1" stroke="#333" stroke-width="3.6"/>
<text class="tl" x="906.1" y="1923.8" text-anchor="middle">1970</text>
<line x1="1027.6" y1="1883.8" x2="1027.6" y2="1895.1" stroke="#333" stroke-width="3.6"/>
<text class="tl" x="1027.6" y="1923.8" text-anchor="middle">1980</text>
<line x1="1149.1" y1="1883.8" x2="1149.1" y2="1895.1" stroke="#333" stroke-width="3.6"/>
<text class="tl" x="1149.1" y="1923.8" text-anchor="middle">1990</text>
<line x1="1270.6" y1="1883.8" x2="1270.6" y2="1895.1" stroke="#333" stroke-width="3.6"/>
<text class="tl" x="1270.6" y="1923.8" text-anchor="middle">2000</text>
<text class="tt" x="1039.4" y="1958.7" text-anchor="middle">Time</text>
<text class="lb" x="672.2" y="1350.6">h</text>
<g>
<text class="tt" x="1555.2" y="1551.0">Model</text>
<rect x="1558.6" y="1568" width="66.1" height="65.7" fill="#4DAF4A" fill-opacity="0.5"/>
<line x1="1563.3" y1="1600.8" x2="1620.6" y2="1600.8" stroke="#4DAF4A" stroke-width="3.6"/>
<text class="tt" x="1640.4" y="1610.8">Diversity</text>
<rect x="1558.6" y="1640.1" width="66.1" height="65.7" fill="#045A8D" fill-opacity="0.5"/>
<line x1="1563.3" y1="1672.9" x2="1620.6" y2="1672.9" stroke="#045A8D" stroke-width="3.6"/>
<text class="tt" x="1640.4" y="1682.8">Asynchrony</text>
<rect x="1558.6" y="1712.2" width="66.1" height="65.7" fill="#FF7F00" fill-opacity="0.5"/>
<line x1="1563.3" y1="1745" x2="1620.6" y2="1745" stroke="#FF7F00" stroke-width="3.6"/>
<text class="tt" x="1640.4" y="1755">Combined</text>
</g>
</svg></body></html>
